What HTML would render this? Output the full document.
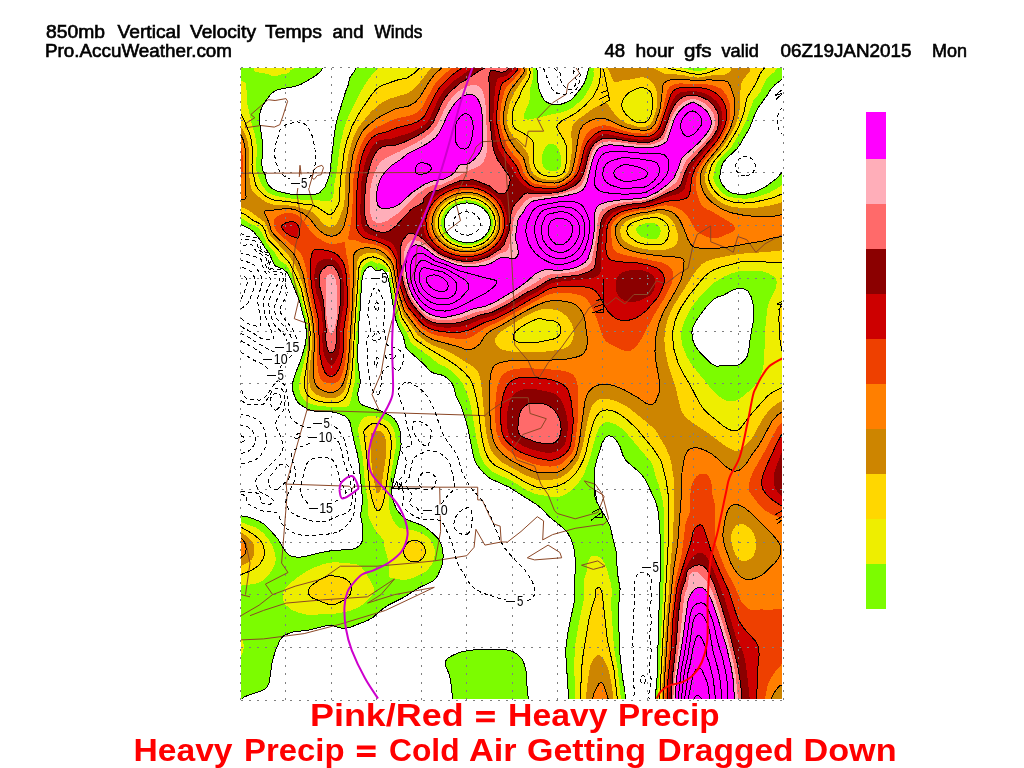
<!DOCTYPE html>
<html><head><meta charset="utf-8"><title>850mb Vertical Velocity Temps and Winds</title>
<style>
html,body{margin:0;padding:0;background:#fff;width:1024px;height:768px;overflow:hidden}
svg{position:absolute;left:0;top:0;display:block}
text{font-family:"Liberation Sans",sans-serif}
.t{font-size:17.5px;fill:#000;stroke:#000;stroke-width:.6px}
.r{font-size:31px;font-weight:bold;fill:#f00}
.lb{font-size:14.5px;fill:#000}
</style></head><body>
<svg width="1024" height="768" viewBox="0 0 1024 768">
<rect width="1024" height="768" fill="#fff"/>
<defs><filter id="nf" x="0" y="0" width="1" height="1" filterUnits="objectBoundingBox"><feOffset dx="0" dy="0"/></filter><filter id="nf2" x="-0.2" y="-0.2" width="1.4" height="1.4"><feOffset dx="0" dy="0"/></filter><clipPath id="mc"><rect x="241" y="68" width="541" height="631"/></clipPath></defs>
<g clip-path="url(#mc)" shape-rendering="crispEdges">
<path fill="#7CFC00" d="M783 700l-127.9 0 2 -23 2.5 -88 1.3 -23 -1 -36 -1.6 -18 -1.4 -6 -2.3 -7 -9.6 -20 -5 -6.2 -14 -12.1 -2.8 -4.7 -3.2 -9.5 -4 -6.6 -3 -3 -4 -1.1 -2 0.6 -2 1.6 -3 5.3 -6.7 21.7 -0.8 7 -0.2 20 0.7 5 1.7 5 9.9 17 3.4 7.1 6 25 1.6 22.9 2.5 15 -1.4 17 0.5 41 3.2 30 2.6 15 0.1 8 -56.4 0 -2.8 -44 0 -8 1.7 -14 6.8 -33 0.1 -18 1.1 -19 -1.1 -13 -1.7 -7 -1.8 -5 -3 -5.5 -3.7 -4.5 -14.7 -12 -7.7 -8 -4.6 -4 -28.3 -17.9 -19 -8.6 -6 -5.2 -5.6 -6.3 -3 -5 -1.7 -5 -5.7 -28.1 -3 -11.3 -4 -11.5 -5 -10.4 -1.9 -7.7 -1.7 -4 -3.1 -4 -4.3 -3.4 -3.5 -1.6 -7.5 -1.8 -3 -1.4 -9 -9.2 -15.2 -13.6 -1.1 -2 -2.5 -11 -4.8 -9 -2.9 -8 -6.4 -37 -2.1 -7.2 -2 -3.1 -2 -1.7 -2 -0.2 -3 1.1 -2 -0.2 -4.2 -3.7 -1.8 -0.7 -3 1.4 -3.1 4.3 -1.5 5 -1 9 -1.2 23 -1.6 16 -0.8 26 0.2 12.2 2.4 18.8 -2.5 11 0.2 6 1.9 4.1 3 2.4 19 5.9 8 3.9 4.4 3.7 3.3 5 2.6 8 0.8 12 -0.8 6 -8.4 38 -0.2 6 1.8 8 3.5 8.1 6 6.9 5 3.1 9 3.2 8 3.7 7.5 6 5.8 6 2.9 5 1.6 6 0.4 7 -1.1 8 -4.1 10 -2.8 4 -2.2 2.1 -14.6 6.9 -15.4 9.8 -14.5 7.2 -5.9 4 -9.6 8.3 -5 3 -17.1 6.7 -4.9 1.4 -5 -0.3 -9 -2.7 -5 0 -17 4.5 -17 2.1 -8.1 3 -2.5 2 -2.4 3.1 -4.8 10.9 -3.4 13 -2.5 18 -2.1 5 -2 2 -3.2 1.6 -16 5.4 -3 2 -1 2 -1 0 0 -184.1 5 0.6 6 1.7 8 3.4 4 2.6 6.1 5.8 7 8 9.5 15 3.4 2.7 4 1.3 10 -0.2 14 -3.6 12 -2.3 18 -1.2 6 -1 4 -1.9 2.9 -2.8 1.4 -3 0.5 -5 -0.3 -11 -2 -10 1.7 -11 0.2 -7 -3.4 -34 -1.6 -9 -3.6 -14 -3.9 -18 -1.7 -3 -3.2 -2.9 -7.8 -3.1 -6.2 -1.3 -15 -0.3 -8 -2 -7.3 -4.4 -3 -3 -2.1 -3 -2.8 -8 -0.3 -4 0.4 -5 1.6 -6 5.5 -14.1 4.8 -14.9 1.6 -11 -0.3 -7 -1.1 -6.9 -5.9 -22.1 -9.1 -22.2 -3 -5.2 -4 -3.6 -7 -2.6 -1.6 -1.4 -5.4 -12 -4 -5.1 -4 -7 -7.2 -8.9 -3.8 -3 -9 -4.7 0 -156.3 81.6 0 -1.7 3 -4.9 4.6 -14.5 8.4 -7.5 2.7 -15 2.6 -5.9 2.7 -3.1 3 -7.7 11 -1.3 3.1 -1.2 4.9 -0.3 9 2.3 13 1 10 -1 16 0.1 5 1.1 4 1.9 3 1.1 5.5 1.9 4.5 3.4 4 5.9 3 12.1 3 11.7 0.9 14 -0.6 3 -0.7 2.5 -1.6 2.5 -2.5 3 -4.6 3 -8.6 1.1 -5.3 4.5 -39 1.8 -10 9.4 -31 2.4 -6 1.5 -7 4.3 -6.2 1.8 -3.8 181.1 0 1.4 19 3.3 9 2.4 3.8 2.4 2.2 4.6 2.1 5 0.9 5 -0.8 6.4 -2.2 3.4 -2 3.1 -3 7.1 -8.8 3.3 -5.2 1.6 -4 2.9 -11 194.2 0 0 10.4 -11 9.3 -5.3 8.3 -7.7 10.2 -3.1 5.8 -6.3 16 -9.9 17 -2.9 4 -9.8 9 -4.2 5 -1.5 4 -1.7 10 0.5 3 1.9 4 4 5 3 2.5 3 1.5 4 0.8 10 0.2 8.7 -2 10.5 -5 10.8 -8 7 -7.6zM473.7 242l4.3 -1.5 4 -2.2 3 -2.5 3 -3.9 1.7 -3.9 0.7 -4 -0.2 -4 -1.2 -4 -2 -3.4 -3.2 -3.6 -3.8 -2.7 -4 -1.9 -5 -1.2 -4 -0.3 -5 0.6 -5 1.5 -3.6 2 -3.4 2.7 -4.4 6.3 -1 3 -0.5 4 0.5 4 1 3 1.7 3 2.7 3.2 3 2.4 4 2.1 8 2 4 0zM734.5 366l4.5 -1.3 3 -2 3.5 -3.7 1.8 -3 1.3 -5 1.8 -14 3 -16 0.1 -15 -2.5 -9.6 -3.2 -5.4 -2.8 -1.8 -3 -0.7 -4 -0.1 -4 1.1 -10.3 5.5 -6.7 2.2 -3 1.9 -7.1 6.9 -10.9 14.8 -3 6.1 -1.1 5.1 0.5 7 2.8 7 5.2 7 9.6 9.7 6 3.5 7 -0.4zM528 700l-75.2 0 -2 -19 -1.8 -7 -3.4 -8 -0.4 -3 0.5 -2 2.5 -3 5.3 -3 7.5 -3.1 7 -1.4 16 -1.2 14 -0.2 9 0.8 7 2.2 4 2.7 3.2 3.2 1.9 3 1.9 5.6 1.4 7.4 1 18 1.2 8z"/>
<path fill="#EEEE00" d="M276 76l-3 0.1 -7 -2.5 -10.7 -1.6 -1.1 -1 -0.1 -3 41 0 -4.1 1.9 -3 3.4 -6 0.9zM783 700l-125.4 0 1.4 -19.3 5 -108.7 0.5 -41 -0.9 -23 -0.9 -7 -3.7 -15.4 -3 -8.2 -2.7 -10.4 -2.3 -5 -24 -28.2 -5 -5.1 -7 -4.7 -4 -1.3 -4 -0.6 -3 0.7 -2 1.3 -2 2.4 -2 3.8 -2.5 6.7 -5.3 20 -6.2 17.6 -5.7 8.4 -3.3 3.9 -7 6 -5 2.9 -4 1.1 -5 0.3 -19 -3.2 -8 -3.7 -17 -10.4 -14 -6.2 -5 -3 -4 -3.7 -3.2 -4 -3.8 -8 -2.9 -13 -6.2 -36 -3.2 -11 -4.7 -11 -4.3 -6 -7.7 -7.2 -6 -4.1 -7 -3.2 -9 -7.5 -15 -10.6 -3 -2.7 -4.1 -9.7 -5.9 -9.8 -1.5 -4.2 -5 -19 -5.4 -27 -3.1 -5.4 -4 -3.5 -2 -0.7 -3 0.2 -5 -2.4 -3 0.5 -3 1.7 -2 1.8 -1.8 2.8 -1.2 3.1 -4.1 48.9 -2.2 62 -4.3 20 -1.1 3 -2.3 1.5 -8 0.9 -20 -1.4 -9 -2.4 -3 -1.6 -3.3 -3 -2.3 -3 -1.3 -3 -0.8 -4 -0.1 -5 0.7 -5 7.2 -30 1 -8 0.3 -9 -1.5 -11 -6.5 -26 -8.1 -20 -3.3 -6.4 -3 -3.8 -6.7 -4.8 -5.6 -9 -6.7 -7.2 -4 -9.4 -3.8 -5.4 -3.4 -3 -7.2 -3 -4.6 -3.3 -3 -1.5 0 -137.2 3.4 1 1 1 0.8 2 1.3 20 4.3 19 3 10 1.9 11 0.3 6 -1 13 0.2 6 4.2 12 2.1 4 5.5 6.4 5 2.5 3.7 1.1 12.3 2.3 13 1.4 10 -0.2 14 1.8 3 -0.4 2 -1 1.6 -1.9 0.7 -2 1.4 -15 2.1 -9 2.9 -25 4.1 -18 2.6 -8 9.6 -20.4 8 -14.7 7 -10 8 -7.9 153.5 0 0.6 3 -0.2 7 -0.7 4 -2.6 7 0.6 6 -0.4 4 -1.3 5 -4.1 9 -0.9 3 0.4 2 1 1 3.1 0.7 12 -2.2 13 -3.7 5 -0.5 10 -3 5 -2.7 10.5 -9.6 6.2 -10 3.4 -8 0.7 -5 -0.4 -4 1.2 -3 87.9 0 9.5 2.4 7 0.7 5.7 -1.1 3.4 -2 68.8 0 -1.7 3 -9.2 8.5 -6 13.2 -6.9 8.3 -7 20 -5.6 11 -9.2 15 -10.4 11 -3.9 5 -1.6 4 -2.2 10 0.4 3 1.8 4 3.6 5.1 3.6 3.9 5.4 3.5 9 1.9 10 0.2 9 -1.5 13 -4.3 7 -3.8 7 -4.7zM556.5 171l3.2 -2 1.4 -3 0.4 -5 -1 -6 -1.5 -5 -2.7 -4 -3.3 -2.1 -3 -0.1 -2 0.7 -2 1.6 -3.2 5.9 -0.8 5 0.3 7 1.7 3.7 2.8 2.3 4.2 1.2zM470.3 245l4.7 -0.9 5 -1.8 4 -2.4 4 -3.8 2.8 -4.1 1.5 -4 0.6 -4 -0.4 -5 -1.7 -5 -2.5 -4 -3.3 -3.4 -4 -2.8 -5 -2.2 -5 -1.1 -5 -0.3 -5 0.7 -5 1.6 -4 2 -4 3.1 -3 3.4 -2.3 4 -1.3 4 -0.4 4 0.4 4 1.3 4 2.4 4 2.9 3.1 3.9 2.9 4.1 2 5 1.5 5 0.6zM655 239l2 -0.6 1.7 -1.4 2 -5 -0.5 -4 -1.2 -2 -2 -1.6 -5 -1.8 -5.1 0.4 -6.9 2 -3.5 3 -0.3 2 0.8 2 4.7 5 6.3 1.7zM734.5 401l3.5 -1.3 5 -3.2 10.5 -9.5 6.3 -9 3.2 -9 1.3 -11 0.6 -26 2.5 -24 1.6 -5.5 6.7 -13.5 1.2 -7 -0.8 -3 -3 -3 -5.5 -3 -5.6 -1.8 -8 -0.6 -15 0.6 -7 2.1 -6.7 2.7 -11.3 6.8 -5 4.4 -10.1 10.8 -6.9 8.6 -6.3 11.4 -4.1 12 -0.6 7 1.5 9 4.5 11 4.3 7 19.7 24.6 6 6.1 5 3.8 4 2.1 4 0.9zM409 579.2l-4 0.6 -4 -0.1 -9.5 -1.7 -2.1 -1 -0.6 -2 0.2 -8 -0.7 -6 -4 -15 -0.8 -6 -8.5 -10.3 -4 -7.2 -2.7 -6.5 -0.5 -3 0.2 -11 -2.9 -17 -2.3 -27 -5 -29 2.4 -7 1.3 -2 2.5 -2.3 4 -1.8 3 -0.3 4 0.6 11 4.1 3 2.3 2.9 3.4 1.6 3 1.3 4 1.1 8 -0.1 6 -6.2 34 -1.1 9 1 20 1 4 2.5 5.6 3 5.3 3 2.9 15 2.6 7 2.4 4 2.2 6.1 6 1.7 3 1.7 5 0.4 5 -0.8 5 -2.1 5 -4 5.6 -4 3.1 -9 4.5zM246 585.1l-5 0.5 0 -63.4 14 5 5 3.1 4 3.5 5 6.2 3 5 2.6 7 1.2 6 -0.5 5 -2.1 5 -3.8 6 -4.4 4.8 -4 2.9 -4 1.6zM621 700l-45.9 0 -0.9 -38 1.1 -18 3.7 -22 4.6 -21 0.4 -22 2.5 -7 0.8 -7 1.4 -5 1.7 -3 2.6 -1.5 3 0.1 3 1.3 3 2.7 2.4 3.4 2.2 5 4.6 17 0.8 8 -0.9 7 0 5 2.8 42 3.9 23zM315 615l-6 0.3 -11 -2.7 -6 -2.7 -6.2 -4.9 -2.4 -4 -0.7 -7 1.5 -4 3.3 -4 7.7 -7 10.1 -7 10 -5 9.7 -3.4 8 -1.2 11 0.2 13 1.9 4 2.2 5.5 7.3 7.2 13 0.4 3 -0.6 3 -3.6 5 -5.9 5.8 -4.7 3.2 -9.6 4 -16.7 3.1 -9 -0.6zM241 656l0 -17.7 2 2.7 0.9 6 -0.8 5z"/>
<path fill="#FFD700" d="M783 700l-123.4 0 6.9 -120 2.1 -51 -0.3 -32 -1.1 -11 -5.5 -23 -3.7 -7.4 -6 -8.4 -14.2 -17.2 -8.8 -8.8 -8 -6.1 -5 -2.9 -5 -1.8 -5 -0.5 -3 0.6 -3 1.6 -3 3.2 -2.1 3.7 -4.3 13 -5.2 22 -2.6 7 -3.5 7 -3.3 4.9 -4 4.5 -4 3.4 -5 3 -5 2.1 -9 2 -6 0.3 -6 -0.9 -10 -4.1 -16 -9.5 -15.2 -7.7 -3.8 -3.2 -3.1 -3.8 -2.7 -5 -2.1 -6 -2.7 -13 -4.5 -34 -2.9 -12.3 -3.2 -8.7 -4.8 -6 -9.1 -8 -8.9 -6 -22 -13.1 -9 -6.3 -2.8 -2.6 -5.6 -10 -6.6 -10 -6.5 -22 -4.3 -23 -1.2 -3.9 -4 -5.9 -5 -4 -8 -2.3 -5 0.8 -3 1.3 -3 2.4 -1.8 2.6 -1.1 3 -3.3 43 -3.5 59 -2.2 16 -3.4 10 -2.7 4 -2.6 2 -3.4 1.3 -5 0.6 -8 -0.6 -8 -1.6 -5 -2 -3.5 -2.7 -3.1 -5 -0.8 -4 -0.2 -4 1.2 -11 3.9 -24 0.7 -10 -0.1 -8 -1.8 -12 -7.3 -29.8 -6.3 -15.2 -4.7 -9 -3 -4.2 -4 -3.9 -4.6 -5.9 -9.7 -10 -1.6 -3 -2.1 -6.6 -2.6 -4.4 -3.4 -2.8 -6 -2.8 -7 -5.4 -5 -2.2 0 -98.4 3 5.5 5.4 13.1 1.5 5 1.7 12 -0.6 15 0.4 7 1.6 5 1.7 8 3.3 5.3 6.4 5.7 6.6 3.4 4 1 18 1.9 8 1.6 9 0.7 5 1.9 11 7.3 3 0.8 2 -0.7 2 -2.1 5.1 -9.8 1.2 -23 5 -33 2.6 -9 3.4 -9 8.7 -16.3 12 -17.5 4 -4.7 3 -2.5 4 -2.1 16 -5.4 8 -1.5 7 -4.6 5.7 -5.4 109.6 0 1.1 4 -1.4 6 -7.1 12 -2.6 7 -3.5 6 -2.1 5 -1.6 8 0.2 7 1.6 4 2.1 2.6 7 3.4 6 3.8 3.2 3.2 1.1 3 0.4 3 -0.3 12 0.4 5 1.2 4 2.4 4 2.6 2.4 3 1.6 4 1 6 0.4 5 -0.5 4 -1.9 2.5 -3 1.4 -5 0.7 -13 -0.6 -7.7 -2 -5.1 -6.8 -11.2 -0.5 -2 0.6 -2 4.1 -4 14.6 -7.9 8.5 -7.1 8.3 -9 4.5 -8 1.5 -4 1.4 -8 0 -9 68.3 0 3.5 1.3 12 2.2 7 2.1 8 0.9 6 -0.9 13 -4.5 1.5 -1.1 44.8 0 -3.7 5 -5.1 11 -8.6 14 -3.8 17 -2 6 -3.6 8 -5.6 10 -5.2 8 -9.7 10.6 -4.8 6.4 -1.7 4 -2 10 0.9 4 2.3 5 2.9 4 3.7 4 5.7 3.9 10 3.3 10 0.9 11 -1 19 -4.6 9 -4 0 68.8 -15 0 -8 -1 -19 0.5 -20 5.3 -7 2.6 -4 2.3 -4.9 4 -4.1 4.6 -13 16.3 -7.4 11.1 -3.3 7 -2.7 8 -1.7 8 -0.4 7 1.6 12 4.4 14 3.5 7.3 8.2 13.7 9.2 18 4.2 6 3.8 4 15.6 12.8 6 3.7 3 1 3 0.3 3 -0.8 2 -1.3 11.3 -14.7 15.7 -17.5 5 -4 11 -5.5zM641.3 123l4.4 -1 3.3 -3 2 -4 1.2 -6 0.2 -9 -0.9 -6 -1.5 -2.4 -2.9 -2.6 -4.1 -1.4 -3 0.2 -4 1.1 -7.5 4.1 -4.6 5 -1.4 3 -0.6 3 0.1 3 0.9 3 3.1 4.5 7.6 6.5 3.4 1.4zM472.6 247l5.4 -1.4 5 -2.3 4.5 -3.3 3.6 -4 2.7 -5 1.3 -5 0.1 -5 -1 -5 -2.2 -4.8 -3 -4.2 -4 -3.6 -5 -3 -5 -1.8 -6 -0.9 -6 0.2 -6 1.4 -5 2.1 -4.1 2.6 -3.9 3.7 -3.1 4.3 -1.7 4 -1.1 5 0.1 5 1 4 1.9 4 3 4 3.9 3.4 4 2.5 5 2 5 1.1 5 0.4zM656.7 245l4.3 -0.5 3.1 -1.5 3.2 -4 1.6 -4 0.2 -5 -1 -4 -2.1 -3.2 -3.4 -2.8 -3.6 -1.7 -4 -1.1 -12 1.8 -10 3.3 -3 2 -2.3 2.7 -1 4 0.8 3 2.4 3 6.1 4.4 3.7 1.6 6.3 1.4zM783 354.5l-1.7 -6.5 -1.4 -9 -1.1 -21 1.2 -10 1 -3 2 -2.9zM539.5 342l13.5 -2.8 3.1 -1.2 2.7 -2 1.7 -3 0.4 -3 -0.9 -4 -2 -2.8 -2 -1.4 -3 -1 -6 -0.5 -6 -1.6 -4 0.2 -9.1 4.1 -6.8 4 -5 4 -2.8 4 -0.3 2 1 2.4 2 1.8 3 1.4 3 0.4zM379 510.6l-2 0 -2 -2.7 -2.4 -6.9 -2.9 -12 -3.1 -35 -2.9 -22 0.7 -2 4.6 -4.4 3 -2 3 -0.6 3 0.2 4 1.3 2.6 1.5 2.4 2.2 3.1 5.8 1.3 8 -0.5 11 -6.3 44 -2.6 9.5 -1.4 2.5zM243 574l-2 0.6 0 -47.4 11.9 6.8 6.2 5 2.4 3 1.6 3 1.6 7 -1.1 6 -4.6 7.3 -7 4.8zM416 562l-4 -0.1 -4 -1.8 -2.8 -3.1 -1.5 -4 0.1 -4 2.2 -4.6 3 -2.7 4 -1.3 4 0.2 4 1.9 3.1 3.5 1.2 4 -0.3 4 -2 4 -3 2.6zM335 604.3l-4 0.4 -4 -0.8 -15 -6.1 -2.2 -1.8 -1.7 -3 -0.1 -2 1.3 -3 2.8 -3 8.6 -6 7.3 -3 4 -0.3 7.9 1.3 3.6 1 3.5 1.8 3 2.8 1.5 3.4 0.2 3 -1.4 5 -1.3 2 -3.4 3 -5 3zM617 700l-36.5 0 0.9 -30 1.9 -17 5.3 -32 3.4 -13.9 3.3 -10.1 0.7 -8 2 -1.4 1.7 0.4 1 1 1.3 3.6 5.5 48.4 7.1 33 2.8 25 0.1 1z"/>
<path fill="#CD8500" d="M783 700l-121.5 0 5.2 -88 2.3 -22 1.1 -22 2.8 -29 1.6 -44 -1 -18 -2.1 -14 -2.3 -8 -3.7 -8 -9.4 -16.2 -2 -2.3 -12 -10.2 -14.3 -11.3 -9.7 -5.3 -11 -3.1 -4 -0.1 -3 0.7 -3 1.4 -2.9 2.4 -2.2 3 -1.9 4.9 -2.1 8.1 -5.2 27 -4.2 13 -3.5 5.7 -4 4.8 -5 4.5 -6 3.9 -4 1.2 -11 1.3 -8 -0.6 -12 -4.8 -21 -11.4 -5 -3.6 -5 -5.2 -3 -4.8 -2.6 -7 -2.6 -13 -4.7 -47 -1.6 -7 -1.9 -5 -4 -4 -21.6 -13.7 -7 -3.3 -12 -4.6 -8 -4.8 -7.2 -5.6 -13.8 -19 -0.9 -2 -6.6 -21 -2.3 -11 -1.8 -12 -1.8 -5 -3.6 -4.9 -5 -4.2 -5 -2.4 -5 -0.9 -5 0.4 -5 2.1 -3.2 2.9 -1.8 4 -6.1 98 -2 15 -3.1 12 -1.9 4 -2.3 3 -3.6 2.7 -4 1.4 -5 0.1 -6 -1.1 -6 -2.2 -4 -2.9 -2 -2.6 -1 -2.4 -0.9 -7 0.3 -9 2.6 -26 0.2 -10 -0.5 -8 -1.6 -10 -6.4 -29 -4 -12 -4.7 -10.8 -5.1 -8.2 -6 -7 -13.9 -14.2 -3.9 -10.8 -1.9 -3 -14.2 -10.8 -5 -2.8 -4 -1.2 0 -80.5 4 6.8 2.8 8.5 1.1 8 -0.1 21 1.4 13 1.2 5 2.7 4 7.9 6.4 5 3 4 1.7 4 0.7 18 0.9 17 4.8 4.7 3.5 9.3 10.5 3 1.9 4 0.7 3.2 -1.1 3 -3 1.8 -3.5 4.5 -12.5 1 -6 0.7 -24 3.3 -23 3.8 -14 6.2 -13 12.5 -15.2 10 -8.7 8 -4.2 18 -5.4 5.8 -3.5 5.2 -5.3 10.6 -13.7 2.9 -3 94.9 0 1.1 3 -0.6 3 -12.2 18 -4.7 10.1 -2.8 12.9 -0.3 6 0.6 4 1.7 5 2.8 5.2 8.7 8.8 6.7 9 1.1 3 1.4 11 1.7 4 2.1 3 3.3 2.7 4 1.8 5 1 8 0.5 5 -0.8 4.6 -2.2 3.3 -3 2.1 -4 2.8 -18 0.4 -7 -0.7 -7 0 -7 1.2 -6 3.4 -4 16.9 -12.4 10 -5.3 3 -0.3 2 1.6 7.4 10.4 4.2 4 7.4 4.4 10 3.1 5 0.6 5 -0.8 3 -1.8 2.5 -3.5 3.9 -11 1 -16 -1.4 -5.4 -3 -5.2 -3 -3 -3 -2 -5 -1.4 -10 2.3 -9 1 -7 2 -1.8 -0.3 -1.2 -1.2 -2.4 -6.8 -3 -6 45.7 0 10.7 5.5 19 1.5 8 1.9 7 0.7 17 -2.8 7 0.4 3 -0.5 3.4 -1.7 2.4 -2 0.6 -1 -0.2 -2 18.8 0 -0.4 4 -6.2 7 -2.1 5 -0.8 6 -0.7 19 -1.7 8 -2.3 7 -4.8 10 -5.4 9 -3.7 5 -9.9 11.4 -4.6 6.6 -2.9 9 0.1 5 3.2 9 5.2 7.1 4 3.6 4 2.6 5 2.5 5 1.7 12 1.8 12 -0.2 16 -2.8 12 -3.3 0 48.2 -16.2 1.8 -23.8 1.6 -9 1.2 -21 4.2 -6 2.2 -5 2.8 -3.9 4 -4.1 5.6 -18 28.3 -4.6 8.1 -3.3 8 -2.2 8 -1.3 8 -0.2 7 1.2 12 2.1 10 7.8 24 4.9 21 2.1 5 3.1 4 5.4 4.7 15 9.9 19 14.1 8 4.6 3 1 3 -0.6 2 -1.2 8 -7.5 3.8 -5 8.7 -16 4.6 -7 4.9 -5.3 5 -4.5 3.4 -2.2 3.6 -1.5zM474.3 249l5.7 -1.7 6 -3.2 4 -3.2 3.9 -4.9 2.5 -5 1.2 -6 -0.2 -6 -1.3 -5 -2.6 -5 -4 -5 -5 -4 -5.5 -2.8 -6 -1.7 -6 -0.5 -7 0.7 -6 1.8 -5 2.5 -4.3 3 -3.9 4 -2.8 4.3 -2 4.7 -1 5 0.1 5 1.3 5 2.6 5 3 3.7 4 3.5 5 2.9 6 2.3 6 1.1 6 0.2zM662.4 250l4.6 -0.6 6.1 -2.4 3.3 -3 1.5 -4 -0.4 -7 -2.6 -8 -2.8 -5 -4.1 -3.3 -5 -2.4 -5 -1.3 -17 2.8 -8 2.3 -4.7 1.9 -4.3 2.9 -2.4 3.1 -1.3 4 0.4 5 2.3 4.6 4 3.3 7 3.6 10 2.5 8 1zM542 352l16 -2 6 -1.6 5 -2.6 3.2 -4.8 1.4 -5 0.3 -4 -0.6 -4 -1.5 -4 -2.2 -4 -3.3 -4 -3.6 -3 -3.7 -2.2 -7.9 -1.8 -4.1 -0.3 -6 0.8 -5 1.6 -14 7.1 -20.1 12.8 -4.4 4 -2.3 4 -0.1 3 1 2 3.9 4.9 2.8 1.1 10.2 1.8 11 0.7zM379 493.2l-1 0.4 -1 -0.6 -2 -7 -3.4 -22 -1.3 -22 0.5 -8 3.2 -2.6 4 -0.9 3 0.9 3 3.2 1.6 4.4 0.5 5 0 10 -0.9 8 -4.2 26.1 -1 3.5zM746.2 561l4.8 -2.2 2.6 -2.8 2.5 -8 -0.1 -7 -2 -7 -3.2 -5 -5.8 -4.3 -2 -0.7 -3 0 -2 0.5 -2 1.3 -3 4.1 -1.8 5.1 0 5 1.8 8.6 3 7.3 3 3.4 2 1.4 2 0.6zM241 566l0 -33.8 6.9 4.8 4 4 2 4 0.5 4 -0.9 7 -1.5 3.3 -4.6 3.7zM613 700l-27.1 0 1.1 -14 3 -19.5 3 -6.7 3 -3.5 2 -1.1 2 0.2 3 2.7 3 5.4 3 7.5 3 16.1 1.6 12.9z"/>
<path fill="#FF7F00" d="M558 472.1l-4 0.7 -13 0.2 -4 -0.6 -5 -1.7 -10 -4.4 -11 -5.9 -8 -6.1 -5.1 -5.3 -2.9 -4.9 -2.1 -5.1 -2.3 -12 -1.3 -27 0.8 -22 1.4 -7 2.5 -5 3 -2.2 5 -1.7 12 -1.7 34 -0.2 17 -1 11 -1.8 3.7 -1.4 3.2 -2 2.5 -3 1.3 -3 0.6 -5 -0.2 -6 -1.8 -15 -1.1 -5 -2.7 -6 -3.5 -4.3 -3 -2.2 -4 -1.9 -9 -1.7 -6 -0.4 -5 0.2 -10 2.7 -13 6.3 -25 14.6 -12.6 6.7 -3.7 3 -2.7 3 -4 7 -6 4.4 -4 1.5 -4 -0.3 -9 -3.3 -24 -6.5 -7 -3.8 -6 -4.6 -5 -5.8 -10.6 -14.6 -7.4 -22.9 -3.9 -23.1 -2.6 -5 -6.5 -7 -5 -3 -5 -1.5 -5 -0.7 -4.6 0.2 -4.4 1 -3 1.4 -1.7 1.6 -1.3 2.6 -0.7 3.4 -0.9 48 -3.7 52 -2.7 17 -3 8.7 -4 5.5 -3 2.1 -3 1 -3 0.3 -4 -0.8 -5 -2.1 -3.5 -2.7 -2.1 -3 -1.4 -4.9 -0.6 -8.1 1 -30 -0.6 -13 -2.2 -14 -6.7 -33 -2.4 -9 -4.5 -10.8 -5 -8.2 -17.6 -17 -3.4 -4 -1 -2 -2 -7.3 -4.3 -9.7 0.2 -2 21.1 -2.4 5 0.3 5 1.1 6.4 3 6.6 4.7 8.7 11.3 6.5 5 3.8 1.7 4 0.6 4 -0.9 3 -1.9 3 -3.3 1.7 -3.2 3.7 -15 1.3 -10 0.9 -26 3.2 -21 3.7 -12 4.9 -10 2.9 -4 4.7 -4.3 7 -5.5 7 -4.4 13 -6.1 13 -2.8 6 -3.4 5 -5.6 9 -15 5.8 -7.9 6.9 -6 82 0 0.8 3 -0.5 1.4 -14 18.1 -2.8 6.5 -1.9 7 -2 11 -0.2 6 0.8 5 3.1 8.6 4 7.8 13 16.4 2.7 11.2 3.5 6 3.1 3 4.7 2.2 5 1.1 9 0.9 5 -0.4 6 -2.3 5 -3.5 3 -3.7 3.9 -13.3 4.8 -29 2.6 -5 5 -4 7.7 -3.1 4 -0.7 4 0 4 1.1 15 7 7 2.3 12 1.9 7 -0.6 2.1 -0.9 2.5 -2 3.2 -5 3.3 -9 1.2 -5 1.7 -14 0.3 -8 1.7 -2.9 2 -1.5 5 -2 5 -0.5 9 0.2 12 1.5 14 -1 16 1.7 2 2 1.9 3.5 3.3 11 0.7 10 -1.3 11 -3.1 9 -5.8 11 -5.6 8 -12.3 15 -4.5 7 -2 8 0.5 7 1.3 5 3.7 7 5.6 6 9.6 6.7 9 3.7 11 2.4 13 1.5 19 0 10 -1.8 0 21.7 -12 2.2 -9 2.8 -37 6.3 -11 1.2 -13 -0.4 -7 -1.2 -3 -2.4 -3 -5.3 -5.7 -14.4 -3.1 -6 -4.4 -5 -2.8 -1.9 -2.9 -1.1 -6.1 -1.6 -3 -0.2 -13 3 -9 1.1 -12.1 3.7 -3.8 2 -3.1 2.7 -1.8 2.3 -1.4 3 -0.6 3 0.2 4 1.2 4 1.9 4 2.5 3.4 3 2.5 7 2.9 12 2.8 14 2 22 1.7 4 1.6 1.1 2.1 -0.8 10 -2.3 9 -3.8 8 -13.8 24 -4 10 -3 11 -1.3 11 -0.1 8 0.9 9 3.8 22 0.2 5 -0.5 4 -4 10 -2.4 2.1 -3 0.5 -4 -1.3 -7.6 -5.3 -14.4 -8.3 -11 -4.4 -6 -1.1 -6 0.2 -4 1 -5 3 -4.2 4.6 -2.9 8 -5.5 40 -3.1 13 -2.3 4 -6 7.2 -5 4.3zM245 199l-4 0.6 0 -64.1 1.6 2.5 1.4 3.8 1.5 9.2 0.3 25 -0.7 12 1 9zM468.4 252l6.6 -0.8 6 -1.8 6 -3.2 5 -4 4 -5 2.5 -5.2 1.3 -5 0.2 -6 -1.1 -6 -2 -5 -3.2 -5 -4.7 -4.9 -5 -3.4 -6 -2.6 -6 -1.3 -7 -0.3 -7 1 -6 1.9 -6 3.2 -5 4 -4 4.7 -3.1 5.7 -1.5 5 -0.5 6 1 6 2.1 5 3.6 5 4.4 4.1 6 3.8 6 2.3 7 1.5zM770 700l-106.8 0 5.4 -83 4.7 -45 4.4 -29 3.5 -45 0.3 -22 2.2 -15 1.6 -6 2.7 -4.5 3 -2.2 4 -0.7 5 0.8 6 2.3 6 3.5 6 4.8 7 6.9 5 3.5 5 1.9 4 -0.9 3 -2.1 4 -4.2 6 -9.5 7 -9.4 13.1 -24.2 5.5 -6 5.4 -3.9 0 275.3 -2 -1.5 -1 0.3 -5 6.2 -2.7 4.6 -1.5 4zM752.6 579l5.4 -1.8 5 -2.9 11.8 -11.3 3.2 -4.3 2 -4 0.8 -4.7 -0.4 -4 -1.3 -3 -6.1 -8 -23 -22.8 -5 -4 -4 -2.4 -4 -1.3 -3 0 -3 1.4 -2.5 3.1 -1.5 3.6 -2 7.6 -2.2 13.8 0.4 5 1.4 7 6.4 17.4 3 5.3 4 5.3 3 2.9 4 2.2 3 0.5zM241 557.3l0 -19.2 2.1 1.9 1.8 3 1.3 6 -0.4 3 -0.9 2 -1.9 2.2zM608 700l-15.7 0 1.7 -7.1 4.7 -8.9 1.3 -1.4 2 0.1 2 3.1 4 12 0.5 2.2z"/>
<path fill="#EE4000" d="M630 351.1l-3 0.2 -5 -1.5 -13 -6.3 -3 -2.2 -2 -2.6 -2 -4 -4.8 -14.7 -3.9 -10 -5.1 -9 -3.2 -3.3 -4 -2.4 -12 -2.5 -14 0.3 -5 1 -5 1.8 -45 25.2 -14 6.2 -13 8.9 -6 2.4 -12 -0.1 -18 -2.9 -8 -2.9 -7 -4.5 -5 -5.2 -11.4 -15 -5.1 -14 -2.5 -8.6 -1.7 -8.4 -1.9 -15 -1.9 -4 -4.2 -6 -4.3 -3.7 -7 -2.9 -6 -1.6 -9 -0.9 -7 -2.8 -6 -0.3 -1.2 -0.8 2.5 -12 1.1 -9 1.3 -16 0.8 -24 2 -14 2 -9 2.6 -8 3.3 -7 3.6 -5.4 7 -5.9 15 -7.3 9 -3.2 14.4 -3.2 5.6 -3 4.4 -5 9.5 -18 3.1 -4.9 5 -6.1 11.8 -10 69.1 0 0.3 2 -1 2 -8.2 9.5 -5.7 5.5 -1.9 4 -2.9 12 -1.6 13 -0.1 6 1.2 5.8 4 12.4 3 6.7 4 5.9 8 9.3 3.8 10.9 4.1 6 4.1 3.5 4 1.6 12 1.7 7 0 5 -1.2 5 -2.3 4.6 -3.3 3.7 -4 1.6 -3 2.3 -7 3.7 -17 3.1 -9.3 3.2 -5.7 4.8 -4.2 8 -3.1 5 -0.4 6 1.3 13 4.3 8 1.9 11 0.9 6 -0.6 2.5 -1.1 2.7 -2 3.5 -5 4.6 -13 4.8 -21 1.9 -3.3 3 -2.5 3 -1.2 5 -0.7 15 0.9 10 -0.3 10 2 6.7 3.1 4.6 6 3.4 8 0.8 10 -1.2 9 -3 8 -5.6 10 -4.3 6 -12.3 15 -5.3 8 -2.4 7 -0.6 6 0.1 5 1 6 2.1 6.8 1.3 3.2 2.1 3 3.6 2.8 7 3.3 18 10.9 3.4 3 0.6 3 -1.2 2 -1.8 1.2 -13 5.4 -6 0.8 -5.9 -1.4 -6.6 -3 -4.5 -3.7 -2.4 -3.3 -5.4 -10 -5.2 -5.8 -3.6 -2.2 -5.4 -2.3 -8 -1.4 -5 0.5 -13 3.5 -12 1.6 -10 2.5 -6 2.7 -5.7 4.9 -2.8 5 -0.7 6 1.6 14 1.1 3 1.5 2 3.1 2 7.9 2.3 36 7.2 4 1.9 4 2.8 2.2 2.8 0.8 3 0 5 -1.5 6 -7.5 14.8 -8.7 14.2 -15.3 28.4 -5 6.3zM241 180.5l0 -34.9 1.3 5.4 0.7 12 -0.7 12zM472.1 254l6.9 -1.5 7 -3 5.2 -3.5 5 -5 3.7 -6 2 -6 0.6 -6 -0.8 -7 -2.1 -6 -3.6 -6.1 -5 -5.4 -6 -4.1 -6 -2.7 -7 -1.6 -7 -0.2 -8 1.1 -7 2.4 -6 3.3 -5.4 4.3 -4.2 5 -2.9 5 -2 6 -0.6 6 0.8 6 1.6 5 2.9 5 4.6 5 5.4 4 6.8 3.3 7 2.1 7 0.9zM335 383.1l-6 0.3 -6 -1.7 -2.5 -2.7 -2 -6 -1.4 -10 -0.7 -30 -1 -11 -5.7 -28 -3.8 -26 -2.6 -9 -2.3 -5 -2 -3 -20 -17.2 -3.1 -3.8 -1.8 -4 -0.3 -5 1.2 -2.9 3 -2.3 6 -2.4 4 -0.7 3 0.2 4 1.1 4 2.1 4.9 4.9 5.1 8.2 4 4.7 5.1 4.1 7 4 3.9 1.7 4 0.7 11 -2.2 1.4 0.8 0.2 9 2.4 9 1.7 14 0.8 17 -0.4 15 -2.7 23 -1 23 -1.6 12 -1.8 7.3 -2.8 6.7 -2.2 2.7zM556 466.2l-6 0.4 -12 -1.3 -8 -2.6 -12 -5.1 -5 -3.1 -8 -6.9 -3.2 -3.6 -3.1 -5 -2.2 -7 -1.2 -11 -0.3 -12 1 -14 1.7 -10 2.1 -6 3.2 -4.8 4 -2.6 7 -2.4 11 -1.2 31 1.8 8 1.1 5 1.4 4 2.3 2.6 3.4 1.4 3.9 0.9 6.1 0.1 27 -0.7 11 -2.5 20 -1.8 5.5 -3.1 4.5 -7.9 7.3zM783 518.7l-6 -2 -6 -2.8 -5 -3 -3.6 -2.9 -4.6 -5 -6.9 -9 -1.7 -3 -0.6 -4 1.2 -7 3.7 -9 14.7 -26 8.1 -16 3.7 -5 3 -2.6zM764 700l-98.9 0 1.5 -27 2.7 -27 1.3 -26 4.4 -37.1 6.9 -29.9 3.6 -29 4.3 -12 0.5 -5 -0.3 -10 1.3 -10 1.7 -5.4 2 -3.5 2 -2.2 3 -1.7 4 -0.5 3 0.8 2 1.9 2 4.6 1.1 6 0.1 7 2.2 8 1 8 -0.6 21 0.4 12 9.8 25 9.5 18 6.5 14.9 4 4.9 5 3.9 2 0.7 9 -1 9 0.4 7 -0.8 6 0.1 0 53.8 -6.7 7.1 -6 9 -2.8 7 -2.8 14z"/>
<path fill="#CD0000" d="M461 332.1l-11 0.3 -13 -1.6 -10 -3.5 -6 -4.5 -13 -15.7 -2 -3.9 -5 -13.9 -2.3 -8.3 -2.8 -22 -3.9 -8.3 -3.6 -3.7 -5.4 -3.2 -8 -3.1 -11 -3.2 -4.3 -3.5 -2.5 -4 -0.9 -5 0.1 -16 0.8 -27 1.3 -10 2.4 -12 2.9 -9 3.9 -8 4.3 -5.4 6 -3.8 7 -1.4 12 -4.6 15 -3.8 5 -2.1 4 -2.4 2.6 -2.5 2.1 -3 9.2 -19 5.1 -8 11 -11.2 10.8 -7.8 56.1 0 -0.9 2.6 -6 6.4 -3 2.6 -5.5 3.4 -1.5 2.8 -1.2 4.2 -2.5 16 -0.9 14 0.6 5 3.7 16 2.1 6 2.2 4.2 11.5 14.8 2.9 7 2.3 4 5.4 6 3.9 2.9 4 1.4 12 1.2 8 -0.1 5 -1.2 6 -2.8 6 -4.3 3.8 -4.1 1.8 -3 2.3 -6 3.4 -15 2.4 -7 5.3 -7.3 7 -5.6 4 -1.7 4 -0.4 5 0.9 13 3.4 11 2.1 12 0.2 5.5 -1.6 4.5 -3.4 3 -4.8 11.1 -32.8 2.9 -3.8 4 -2.1 8 -0.9 18 1 8.3 2.8 3.7 2.2 3.2 2.8 4.4 6 2.3 6 0.6 9 -1.4 8 -2.8 7 -4.3 7.4 -17.7 21.6 -5.9 9 -2.6 8 -2.2 16 -1.6 2.9 -2 1.5 -4 1.4 -15 1.4 -20 5.7 -13 1.7 -11 2.6 -5 2.4 -4.8 3.4 -3.5 4 -2 4 -1.6 13 -0.4 10 0.8 6 2.5 4.7 3 1.7 6 1.3 19 1.2 14.4 3.1 4.6 1.6 3 1.8 2.7 2.6 1.9 3 0.8 3 -0.2 4 -1.1 4 -3.3 8 -3.8 5.8 -10 11.1 -7 5.3 -6 3 -7 1.3 -7 -0.6 -4 -1.8 -6 -5.5 -3.3 -4.6 -6.9 -13 -3.2 -4 -2.6 -1.8 -5 -1.8 -7 -1.1 -17 0 -7 0.6 -5 1 -5 2 -33 19.3 -18 9.5 -12.6 4.3 -13.4 6.8zM474.3 256l7.7 -2.1 7 -3.5 6 -4.6 4.8 -5.8 3.2 -6.6 1.7 -7.4 0 -6 -1.5 -7 -2.8 -7 -4.3 -6 -5.6 -5 -6.5 -4 -7 -2.5 -8 -1.2 -8 0.3 -7 1.5 -7 2.8 -7 4.2 -5.3 4.9 -4.4 6 -2.9 6 -1.5 6 0.2 6 1.4 7 2.1 5 3.4 5 5.3 5 6 4 7.7 3.2 7 1.7 8 0.7zM298 238.4l-7 -2.3 -6 -3.9 -3.1 -4.2 -0.1 -2 0.6 -1 3.2 -2 4.4 -1.4 4 0.2 2.2 1.2 2.2 3 1 4 -0.4 6.2zM333 376.1l-4.1 -0.1 -1.9 -1.2 -2 -2.4 -3 -7.4 -2 -10 -1.8 -36 -6.1 -29 -1.9 -17 0.1 -9 0.9 -8 1.8 -5.3 3 -1.6 5 0.2 7 1.5 6 1.8 3 1.9 4 4.3 2.5 4.2 1.5 4.6 1.1 6.4 1.3 17 0.1 11 -0.6 7 -3.1 20 -0.2 16 -0.7 9 -1.9 9 -2.1 6 -2.9 5zM553 460l-6 0 -8 -1.5 -10 -3 -8 -3.2 -5 -2.9 -6 -4.8 -4 -4 -2.4 -3.6 -1.8 -6 -1.2 -10 0.1 -11 1 -8 2.1 -9 2.4 -6 3.7 -5 4.1 -2.7 5 -1.7 6 -0.6 16 1.2 9 1.3 7 2 5 2.4 4 3.2 2.6 3.9 2.8 11 1.8 17 -0.3 8 -2.2 18 -2.2 5 -3.5 4 -6 4zM783 506.8l-10 -6.4 -6.3 -5.4 -4 -6 -1.2 -6 0.8 -6 3.7 -10 9.6 -21 5.4 -10.4 2 -2.8zM756 700l-89 0 1.1 -23 3.2 -29 1.6 -29 3.5 -29 3.2 -13 11.1 -34 2.3 -11.4 2 -3.8 4 -2.8 3 0.1 1.4 1.9 7.4 23 9.2 21.9 9.1 20.1 7.1 22 2.8 6.9 6 8.9 10.5 11.2 2.6 5 1.1 8 -1.7 17 -0.8 29z"/>
<path fill="#8B0000" d="M459 327l-13 0.8 -10 -1.2 -8 -2.7 -7 -5.4 -11.9 -14.5 -3.3 -7 -3.8 -11.2 -2 -7.8 -2.4 -23 -1.6 -5.3 -2 -4 -2 -2.3 -3 -1.9 -21 -7.9 -3.3 -2.6 -2 -3 -1.6 -6 -0.8 -9 0.6 -25 0.6 -7 2.6 -14 2.8 -10 4.1 -8.6 4.2 -5.4 2.8 -2 3 -1.2 10 -1.1 19 -5.8 7 -3.2 7 -4.6 3 -2.8 2.4 -3.3 8.6 -19 3 -5.3 3.5 -4.7 9.5 -9.2 18.4 -12.8 41.9 0 -2.3 3.1 -5 4.3 -2 0.9 -6.6 1.7 -1.4 2.1 -1.4 4.9 -1.9 20 -0.4 16 1.9 14 3 13 3.1 6 10.8 15 5.2 9 3.7 4.6 3.9 3.4 5.1 3.1 4 1.4 12 0.6 9 -0.3 6 -1.5 6 -2.6 5.9 -3.7 4.2 -4 2.7 -4 2.2 -5 3.6 -15 2.7 -8 4.3 -6 6.4 -4.9 4 -1.6 5 -0.2 18 3.5 13 1.8 9 -0.2 6 -1.8 4 -2.7 3 -3.9 9 -24.8 4 -7.9 3.6 -4.3 3.9 -2 8.5 -0.8 7 0.3 5 0.9 8 3.4 6.3 5.2 4.1 6 1.9 6 0.3 8 -1.7 7 -2.7 6 -3.2 4.9 -18 21.1 -5.2 7 -3.5 8 -3.5 13 -1.7 3 -5.1 2.9 -9 2.5 -20 7.5 -7 1.5 -10 1 -11 2.4 -8.5 4.2 -5.5 5.3 -3 6.5 -1.7 10.2 -1.4 15 0 20 -0.6 3 -1.3 2 -5 2.4 -6.7 1.6 -28.3 2.7 -7 1.5 -6 2.9 -9.1 5.9 -7.9 3.8 -18.6 11.2 -16.4 8.5 -13 3.6 -13 5.7zM476.5 258l7.5 -2.4 7 -3.6 6.4 -5 4.3 -5 3.2 -7 2 -7 0.4 -7 -1 -7 -3.6 -10 -2.5 -4 -7.2 -6.4 -6 -4 -7 -3.2 -7 -1.6 -10 -0.2 -8 1.3 -9 3.7 -10.8 6.4 -4.2 4.7 -7.2 10.3 -1.6 3 -0.7 3 3 16 2.2 5 4.6 6 6.7 5.9 6 3.7 9 3.4 7 1.5 9 0.4zM332 365.1l-2 -0.4 -2 -2.1 -3.4 -6.6 -0.9 -3 -1.1 -8 -0.5 -10 1.2 -5 -1.9 -20 -1.4 -6.9 -3.7 -10.1 -2.1 -14 0.6 -9 2.2 -6.4 4 -3.5 6 -1.6 4 0.1 2 0.7 3 2.1 3 3.4 3.2 7.2 1.5 11 -0.1 22 -4.3 25 0.9 5 -0.8 16 -0.9 4 -2.5 5.3 -2 3.2zM634 302.1l-5 -0.1 -4 -1.2 -4 -2.4 -3.2 -3.4 -1.4 -3 -0.6 -4 0.5 -7 1 -4 2.5 -3 3.2 -2 9 -2.2 9.3 0.2 3.9 1 4.6 2 3.7 3 2 4 -0.4 6 -1.6 5 -2.5 3.4 -3 2.3 -9 4.1zM554 452.1l-4 0.7 -4 -0.2 -8 -1.5 -8 -2.3 -7 -2.9 -9 -5.2 -2.3 -1.7 -1.6 -2 -2.1 -5.3 -1.3 -6.7 0 -7 1 -9 1.4 -6 2.1 -5 2.8 -3.8 4 -3 5 -1.8 7 -0.5 5 0.3 13 2.4 4 1.1 4 2 3 2.5 2.1 2.8 3.2 7 3 11 0.6 7 -0.4 6 -1.9 11 -1.3 3 -4.3 4.3 -3 1.8zM783 497.4l-4.8 -4.4 -2.7 -4 -1.4 -4 -0.6 -6 1.2 -8 6.3 -17.2 2 -4.1zM749 700l-79.9 0 1.2 -24 3 -27 2.6 -37 2.6 -20 1.7 -7 5 -16 5.8 -10.2 3 -3.2 4 -2.6 2 -0.4 3 0.8 3 2.5 2 2.9 4.7 9.2 11.7 30 11.6 39.5 5.4 10.5 2.7 8 1.9 10 2 15.7 1.8 18.3z"/>
<path fill="#FF6A6A" d="M385 232.1l-4 0.1 -4 -0.7 -4 -1.5 -3 -2 -3.3 -5 -1.7 -7 0 -25 1.1 -9 4.9 -19.5 2.3 -5.5 3 -5 2.7 -2.9 3 -2 4 -1.1 10 -1 7 -2.3 12.1 -5.7 10.1 -6 4.8 -4.4 3.5 -4.6 8.4 -19 3.1 -5 3.9 -5 9.1 -8.3 12 -7.4 6 -4.5 8.6 -4.8 24.7 0 -3.3 2.9 -3 1.1 -3.4 0 -6.6 -1.7 -2 0.3 -1.6 2.4 -0.6 4 0.9 21 0.3 24 2.7 24 1.8 7 3.2 7 12 17 0.4 3 -0.6 4 -1.5 4.7 -1.8 3.3 -1.2 1.2 -2 0.8 -4 -0.5 -2.5 -1.5 -6.5 -5.8 -16 -6.2 -12 0.4 -4 1 -10 4 -9 4.5 -8 2 -2.2 1.1 -4.7 5 -0.8 4 -0.8 1 -8.5 4.5 -3.4 2.5 -17.6 18.5 -4 2.5zM445 324l-6 -0.4 -6 -1.3 -4 -1.6 -4 -2.5 -4 -3.6 -4.7 -5.6 -5.4 -7 -3.2 -6 -4 -12 -1.8 -8 -0.8 -8 -0.5 -17 0.3 -5 1.1 -4.1 2.4 -3.9 3.6 -3.9 2 -0.7 2 0 6 2 5 3.6 8.1 8 6.9 5.8 7 3.6 9 3.2 8 1.5 10 0.1 6 -0.9 8 -2.6 5 -2.5 9.4 -6.2 3.6 -4 5.4 -15 1.4 -15 1.6 -7 1.6 -2.6 9.2 -10.4 1.8 -1.5 2 -0.6 8 0.9 22 -1 11 -3.6 7.6 -4.2 4.4 -4.3 3 -5.6 2.4 -7.1 2.4 -11 2.9 -8 3.3 -4.9 3.7 -3.1 4.3 -2.2 4 -0.8 7 0.4 17 2.9 11 1.1 9 -0.4 7 -2.6 3.5 -2.4 2.3 -3 7.3 -20 4.9 -9.6 4.7 -5.4 5.3 -2.9 8 -0.9 7 1.2 7.7 3.6 5.5 5 3.8 6 1.8 6 0 6 -1.8 6.7 -2.3 4.3 -3.7 5.1 -22 24.9 -4.2 9 -3.9 11 -1.9 2.9 -3.1 2.1 -23.9 11.3 -9 2.6 -14 1.4 -11 2.3 -8 3.4 -3 2.1 -2.8 2.9 -2.2 3.9 -1.2 4.1 -5.7 42 -1.1 2.8 -2 2 -5 2.6 -8 2.6 -23 2.8 -4 1 -6 2.8 -10 6.4 -9 4.3 -20.5 12.7 -14.5 7.2 -14 3.4 -9 3.9 -8 2.5 -6 1.2zM333 352.4l-2 0.6 -2 -1.2 -1.5 -2.8 -1.1 -4 -1 -10 1.1 -4 -1.3 -9 -1.5 -19 -1.3 -7 -2.8 -10 -0.6 -5 0.3 -5 1.9 -5 4.2 -4 2.6 -1.4 2 -0.4 2 0.4 2 1.2 3.8 5.2 2.2 6.6 0.8 8.4 -0.2 11 -1 13 -3.5 20 0.8 4 -0.6 7 -1.3 7.1zM553 443.2l-8 0.4 -8 -1.2 -14.3 -5.4 -2.9 -2 -1.5 -3 -0.5 -4 1.3 -12 2.1 -6 3.8 -4.2 3 -1.7 4 -1.1 9 0.3 4 0.9 4 1.7 3 2.1 3 3.3 3 4.5 1.8 4.2 1.1 5 0.2 5 -0.9 5 -1.7 4 -2.5 2.8zM742 700l-70.7 0 1.1 -23 3.4 -30 3.2 -37.4 2 -15.6 1.5 -6 2.9 -7 2 -10 2.6 -2.9 5 -2.5 3 -0.7 3 0.2 2 0.8 2.6 2.1 4.4 7.1 5.5 12.9 8.9 28 12.1 44 3.7 21z"/>
<path fill="#FFAEB9" d="M381 223l-5 -0.5 -3 -2 -2.2 -4.5 -0.8 -6 -0.1 -17 1.2 -9 2.9 -10 2.6 -6 2.4 -4.1 3 -3.3 3 -2.1 15 -7.2 22 -11.7 7 -5.2 5 -5.2 3.8 -5.2 6.3 -14 4.9 -8.5 4 -5.1 5 -4.7 6 -3.9 7 -2.9 4 -0.4 4 1.6 2.5 2.9 1.7 4 1.8 7 0.8 8 1.6 39 -1.4 9 -2.6 6 -2.4 2.6 -3 2 -13 5.8 -14 8 -11 4.9 -7 0 -7 2.8 -8.3 5.9 -17.7 18 -13 8.9zM449 320.1l-6 0.4 -6 -0.6 -5 -1.4 -5 -2.5 -4 -3.1 -4 -4.2 -5.1 -6.7 -3.6 -6 -2.9 -7 -2.5 -9 -1 -7 -0.4 -8 0.2 -8 1 -7 2.2 -5 3.1 -3.7 2 -1.1 2 -0.3 6 1.6 4 2.5 14 11.3 8.4 3.7 10.6 3.7 7 1 10 0.1 7 -1.3 8 -2.5 9 -5.6 8 -3 2 -1.7 1.1 -2.7 1.3 -9 2.2 -7 0.8 -10 1.5 -5 1.5 -3 6.5 -9 3.9 -4 2.2 -1.5 3 -1.1 23 -2 6.9 -1.4 12.1 -4 4 -2.1 3 -2.5 2.3 -3.4 2.4 -6 4.1 -16 2.7 -8 2.5 -4.3 4 -3.6 5 -2.2 5 -0.5 6 0.4 26 3.3 8 -0.1 6 -1.4 6 -2.7 3.2 -2.9 6.1 -17 3.2 -7 4.5 -7.1 5 -4.6 7 -3 5 -0.1 5 1.6 4 2 5.9 5.2 3.2 5 1.8 6 0.2 5 -1.9 6 -3.1 5 -7.1 8.6 -17.1 17.4 -8.3 19 -1.9 3 -14.7 10.1 -11 5.4 -8 2.1 -17 1.6 -11 2.1 -8 3 -5 4.1 -2 3.5 -1 3.4 -2.3 21.7 -4 20 -1.1 3 -2.6 2.9 -6 3.4 -6 2.1 -13 2 -11 0.5 -4 1 -5 2.7 -8 5.5 -11 6.1 -10 6.9 -12 7 -10 4.9 -5.8 2 -11.2 2.4 -14 5.4zM501 184.4l0 -0.7 0.7 0.3zM332 333.5l-1 0.3 -1 -1.1 -2 -4.5 -1.7 -14.2 0.1 -14 -0.9 -20 1.5 -4.3 3 -2 3 1 2 2.8 1.4 5.5 0.6 8 0.1 19 -0.5 8 -1.8 10zM737 700l-63.8 0 1.3 -22 5.5 -40 4 -40.3 1 -4.2 2.6 -6.5 1.4 -10.9 1.1 -2.1 2.9 -2 3 -0.3 2 0.8 3 3.4 5 4.1 5.2 9 4.2 11 12.3 40 6 24 1.8 10 1.8 17 0.7 9z"/>
<path fill="#FF00FF" d="M390 208.1l-7 0.6 -3 -0.9 -2 -2.4 -1.2 -4.4 -0.1 -8 1.5 -8 2.6 -7 4.2 -6 5.8 -6 10.2 -6.8 6 -5 21 -11 6.9 -5.2 3.1 -3.6 2.7 -4.4 6.3 -13.9 4 -7.4 4 -5.6 4 -4.1 4.2 -3 4.8 -1.8 4 0.1 3 1.6 3 3.5 2.6 5.6 1 5 1 10 0.2 16 -0.4 9 -1.2 5 -3.1 5 -4.6 5 -4.5 3.4 -3 1 -5 0.1 -2 0.8 -4.1 6.7 -4.7 4 -7.2 3.3 -9 1.4 -9.1 3.3 -13.3 9 -12.6 11.6 -4 2.1zM447 317.1l-5 0.2 -6 -0.9 -5 -1.6 -4 -2.2 -4 -3.1 -4 -4.2 -4 -5.3 -2.8 -5 -2.9 -7 -2 -7 -1.2 -7 -0.3 -7 0.4 -7 1.5 -7 1.9 -4 2.4 -2.6 2 -1.2 2 -0.4 5 1.1 5 2.9 8 6.4 4 2.5 17 6.8 7 1.6 11 0.7 12 -1.5 6 -1.9 8 -5.1 3 -0.9 4 0 7 1.3 2 -0.3 2.5 -2.4 1 -3 -1.3 -8 -2.2 -8 1.8 -7 0.4 -8 1.6 -4 3.9 -5 4.1 -7 4.2 -3.9 4 -1.7 28 -4.1 14.2 -3.3 4.8 -2.3 2.8 -3.7 2.2 -5.2 5 -19.8 2.3 -7 2.1 -4 2.8 -3 4.8 -2.5 6 -0.8 33 3.2 9 -0.4 6.6 -1.5 5.4 -2.4 2.9 -2.6 7.9 -23 4.6 -7 5.6 -5.2 6 -3 4 0.2 7.2 4 4.8 4.6 2.7 4.4 1.5 5 -0.2 4 -1.9 5 -3.5 5 -6.6 7.6 -16.2 14.4 -1.8 2.9 -3 9.1 -4 8.7 -2 2.6 -6.3 5.7 -8.7 6.3 -10 4.7 -8 1.5 -19 1.5 -11 1.5 -7 2 -2.7 1.5 -2.1 2 -1.7 3 -1 4 0.2 14 -2.6 17 -4.1 13.7 -3 3.8 -7 4.3 -8 2.3 -12 1.5 -11 -1.2 -6 1.4 -7 4 -6.4 6.2 -12.6 9.2 -20 11.9 -9 3.9 -13 3 -12 4.7zM734 700l-59.1 0 1.9 -24 5.4 -33 5.4 -40 1.4 -5.3 3 -5.5 3 -3.1 3 -1.5 3 -0.2 2 0.7 4 3.7 4 7 4.5 12.2 10.5 34.3 4.8 19.7 2.6 17 1.2 18z"/>
</g>
<path d="M240.5 67.5V700.5M285.8 67.5V700.5M331.1 67.5V700.5M376.3 67.5V700.5M421.6 67.5V700.5M466.8 67.5V700.5M512.0 67.5V700.5M557.3 67.5V700.5M602.5 67.5V700.5M647.8 67.5V700.5M693.0 67.5V700.5M738.2 67.5V700.5M783.5 67.5V700.5M240.5 67.5H783.5M240.5 120.2H783.5M240.5 172.9H783.5M240.5 225.7H783.5M240.5 278.4H783.5M240.5 331.1H783.5M240.5 383.8H783.5M240.5 436.5H783.5M240.5 489.3H783.5M240.5 542.0H783.5M240.5 594.7H783.5M240.5 647.4H783.5M240.5 700.5H783.5" fill="none" stroke="#7f7f7f" stroke-width="1" stroke-dasharray="2 6.3" shape-rendering="crispEdges"/>
<g clip-path="url(#mc)">
<path d="M241.0 173.3 L466.8 172.3M466.8 172.3 L467.7 162.8 L474.1 152.3 L475.9 147.0 L482.2 141.7 L503.9 140.7 L516.5 138.6 L525.5 147.0 L528.2 131.2 L543.6 131.2 L537.3 118.6 L552.6 102.8 L566.2 94.3 L568.0 83.8 L579.7 73.3 L576.1 68.0M503.9 140.7 L509.3 215.5 L513.8 299.7 L514.7 345.0 L528.2 360.8 L534.6 375.6 L539.1 377.7M299.7 173.3 L297.0 194.4 L301.5 220.7 L295.2 247.1 L292.5 273.4 L298.8 299.7 L294.3 318.7 L308.7 324.0 L306.9 410.3 L286.2 484.1 L287.1 494.6 L281.6 563.1 L288.0 572.5 L265.4 584.1 L272.6 594.6M313.3 173.3 L308.7 189.1 L313.3 204.9 L304.2 220.7M466.8 172.3 L455.1 199.7 L460.5 220.7 L439.7 236.5 L417.1 247.1 L415.3 268.1 L403.6 299.7 L391.9 320.8 L385.5 347.1 L381.0 373.5 L372.0 394.5 L380.1 412.4M306.9 410.3 L380.1 412.4 L484.9 415.6 L489.4 411.4 L498.4 405.1 L512.0 397.7 L528.2 397.7M286.2 484.1 L349.4 486.2 L352.1 489.3 L353.9 486.2 L439.7 487.2 L477.7 487.2M477.7 487.2 L477.7 499.9 L482.2 499.9 L489.4 515.7 L493.9 524.1 L500.2 526.2 L501.2 542.0M439.7 487.2 L440.6 531.5 L435.2 560.9M539.1 377.7 L548.1 362.9 L561.7 347.1 L570.7 334.5 L582.4 318.7 L588.8 308.2 L602.3 299.7 L606.8 305.0 L615.9 297.6 L624.9 303.9 L633.9 294.5 L647.5 294.5 L656.5 280.8 L665.6 283.9 L679.1 273.4 L688.1 268.1 L692.6 247.1 L697.2 234.4 L710.7 226.0 L710.7 241.8 L724.3 247.1 L733.3 252.3 L737.8 236.5 L746.8 239.7 L755.9 252.3 L764.9 243.9 L778.5 236.5 L783.0 234.4M528.2 397.7 L530.1 413.5 L546.3 418.7 L540.9 428.2 L522.8 434.5 L512.0 450.3 L516.5 459.8 L534.6 466.1 L540.9 484.1 L548.1 494.6 L554.4 510.4 L557.2 513.5 L575.2 518.8 L597.8 512.5 L604.1 496.7 L595.1 484.1 L584.3 480.9 L588.8 486.2 L602.3 494.6 L608.6 518.8 L604.1 524.1 L575.2 528.3 L552.6 534.6 L542.7 539.9 L543.6 520.9 L537.3 516.7 L521.0 531.5 L507.5 542.0 L501.2 542.0M527.3 557.8 L548.1 545.1 L559.9 552.5 L561.7 557.8 L534.6 559.9 L527.3 557.8M581.5 565.2 L597.8 560.9 L605.0 566.2 L593.3 569.4 L581.5 565.2M501.2 542.0 L484.9 545.1 L475.9 529.3 L474.1 547.3 L466.8 555.7 L434.3 560.9 L412.6 563.1 L376.5 566.2 L340.4 566.2 L322.3 578.9 L295.2 586.2 L272.6 594.6 L259.1 605.2 L241.0 615.7M241.0 639.9 L263.6 638.9 L304.2 633.6 L340.4 624.1 L385.5 610.4 L434.3 587.3 L394.6 594.6 L367.5 603.1 L381.0 594.6 L394.6 578.9 L367.5 596.8 L322.3 599.9 L286.2 603.1 L263.6 610.4 L250.0 615.7M245.5 594.6 L250.0 563.1 L245.5 542.0M241.0 594.6 L250.0 596.8M245.4 127.8 L246.2 123.2 L254.8 117.7 L250.8 114.6 L268.0 99.7 L275.1 100.5 L286.0 98.6 L287.6 101.3 L282.9 116.1 L279.8 124.7 L274.3 127.1 L261.0 125.5 L245.4 127.8M312.6 170.8 L317.3 166.9 L321.9 165.3 L323.5 167.7 L321.2 174.7 L317.3 175.5 L314.1 179.4 L311.8 177.8 L313.3 172.4M299.3 174.5 L300.0 165.3 L301.2 174.5" fill="none" stroke="#8b4726" stroke-width="1"/>
<path d="M543.5 68.0 549.8 85.0 552.0 89.0 556.4 93.0 562.0 94.4 568.0 93.8 572.0 92.7 575.0 90.8 577.0 88.3 579.0 83.0 580.2 75.0 577.9 68.0M783.0 107.3 781.0 109.0 778.7 113.0 777.5 117.0 777.1 121.0 777.7 126.0 779.0 130.0 781.0 133.2 783.0 134.9M302.6 181.0 306.0 179.7 310.0 177.0 313.7 172.0 315.3 163.0 315.0 148.9 312.7 137.0 308.5 128.0 306.0 125.1 303.0 123.1 300.0 122.1 296.0 121.9 285.6 125.0 282.0 127.4 280.0 130.0 275.5 145.0 274.7 151.0 274.9 157.0 276.0 162.7 278.0 168.0 280.2 172.0 283.0 175.3 287.0 178.0 292.7 180.0 298.0 181.1 302.6 181.0M746.2 176.0 750.0 174.8 753.0 172.4 754.8 169.0 755.3 165.0 754.5 162.0 752.2 159.0 749.0 157.0 746.0 156.4 742.0 157.1 738.0 159.8 736.1 163.0 735.5 167.0 736.6 171.0 739.0 173.8 742.0 175.5 746.2 176.0M469.6 235.0 474.8 233.0 478.9 229.0 480.3 225.0 479.9 220.0 477.3 216.0 473.0 213.0 467.0 211.7 462.0 212.4 457.2 215.0 454.5 218.0 453.0 222.0 453.6 227.0 456.1 231.0 460.0 233.8 465.0 235.2 469.6 235.0M241.0 352.3 253.5 360.0 264.0 365.0 272.0 372.7 275.0 374.3 277.0 372.9 281.2 366.0 293.1 354.0 296.0 344.0 296.3 339.0 295.6 335.0 292.6 329.0 281.5 315.0 279.8 310.0 280.8 306.0 285.4 298.0 287.0 293.9 287.1 291.0 285.4 285.0 285.8 273.0M281.0 269.2 274.0 269.5 271.0 268.4 270.0 267.0 269.4 264.0 271.4 259.0M268.0 252.6 265.0 252.1 261.1 249.0 260.4 247.0 260.5 242.0M257.0 238.0 246.0 236.4 241.0 233.5M378.9 394.0 380.6 390.0 382.0 374.0 384.0 368.9 386.6 367.0 390.0 366.6 393.0 367.5 397.0 370.4 399.0 370.0 401.0 367.6 402.6 364.0 404.1 357.0 403.0 353.7 400.0 350.4 396.0 348.3 388.0 345.4 386.0 343.4 385.5 337.0 383.5 327.0 384.8 309.0 384.3 302.0 378.8 290.0 377.1 288.0 376.0 287.6 374.0 288.4 373.0 289.7 369.1 302.0 367.9 315.0 370.6 330.0 369.9 333.0 367.0 339.0 366.6 343.0 367.7 352.0 367.8 368.0 370.2 383.0 372.0 389.2 374.0 392.8 377.0 394.7 378.9 394.0M241.0 494.0 246.1 496.0 246.7 498.0 245.9 502.0 247.9 504.0 262.0 510.9 275.0 512.3 277.0 513.0 278.5 515.0 281.4 523.0 285.0 527.6 294.0 533.1 303.0 535.7 308.0 535.8 327.0 534.3 334.0 533.0 339.6 531.0 344.1 528.0 350.0 521.5 353.3 516.0 354.8 510.0 355.4 494.0 353.9 480.0 354.2 474.0 349.0 461.0 345.0 441.3 342.0 435.1 337.6 429.0 333.9 426.0 329.0 424.6 326.0 425.0 319.0 427.6 313.0 427.8 306.0 427.1 301.0 425.8 294.0 421.5 290.9 418.0 289.2 414.0 287.9 397.0 286.3 388.0 284.0 384.5 280.0 381.3 278.0 380.7 276.0 381.7 266.0 396.2 263.0 398.9 260.0 400.1 252.0 399.7 246.2 398.0 244.2 396.0 241.0 389.0M520.1 602.0 529.5 600.0 532.4 598.0 534.0 595.6 534.9 592.0 534.8 589.0 533.7 585.0 530.9 579.0 524.9 570.0 509.5 554.0 503.9 547.0 500.2 540.0 490.1 515.0 485.7 506.0 481.0 499.1 472.0 489.3 466.0 480.2 461.6 471.0 457.9 458.0 454.5 451.0 446.5 440.0 441.9 432.0 434.5 410.0 429.0 398.7 424.7 393.0 419.5 388.0 412.0 383.4 407.0 381.9 404.0 382.9 400.8 386.0 398.7 389.0 398.3 392.0 399.7 398.0 404.7 412.0 406.5 424.0 410.5 438.0 411.4 444.0 411.0 445.7 410.0 446.7 402.0 447.5M401.3 451.0 405.5 458.0 406.7 462.0 404.4 473.0 402.9 476.0 400.0 479.0 399.2 481.0 399.6 484.0 403.8 493.0 403.9 496.0 402.5 503.0 403.1 506.0 405.0 509.0 411.0 514.2 420.0 518.8 426.0 520.0 437.0 519.8 440.5 521.0 442.7 523.0 445.0 526.9 452.4 544.0 456.4 560.0 458.3 565.0 469.0 582.6 474.0 588.2 482.0 592.9 498.2 598.0 512.0 601.5 520.1 602.0M298.0 438.1 296.0 438.3 295.0 438.0 294.7 437.0 296.0 434.9 299.0 433.2 300.0 433.6 300.7 435.0 299.8 437.0 298.0 438.1M278.0 489.0 276.0 489.8 274.0 489.7 270.0 487.3 268.1 484.0 268.4 480.0 271.2 475.0 278.2 466.0 281.0 464.1 285.0 464.0 288.0 465.7 289.5 468.0 290.7 472.0 290.3 476.0 287.8 480.0 278.0 489.0M650.9 700.0 649.1 698.0 648.5 696.0 651.3 680.0 648.9 667.0 651.3 651.0 649.4 636.0 651.3 622.0 651.2 618.0 649.5 609.0 651.4 599.0 650.7 588.0 651.3 581.0 650.8 578.0 649.0 575.1 646.0 572.9 643.0 572.2 640.0 572.7 637.0 575.1 635.6 578.0 634.7 583.0 635.0 600.0 633.1 617.0 633.5 633.0 632.6 638.0 634.0 664.0 633.0 678.0 634.5 692.0 633.3 700.0M553.8 68.0 561.0 74.0 560.9 81.0 562.0 84.4 567.9 89.0 570.0 89.6 572.0 89.2 574.0 87.7 576.1 83.0 576.1 79.0 573.6 74.0 574.1 71.0 572.9 68.0M241.0 340.7 254.0 348.1 266.0 356.6 272.0 358.9 278.0 358.6 284.0 356.1 288.2 353.0 290.6 349.0 291.9 341.0 290.4 335.0 286.0 328.2 277.0 319.2 274.2 310.0 275.1 304.0 280.3 292.0 282.0 286.2 283.3 280.0 283.0 275.4 282.0 273.1 280.4 272.0 272.0 271.1 269.0 269.1 267.6 264.0 269.9 257.0M269.0 255.6 265.0 254.2 259.2 250.0 258.2 248.0 257.4 243.0 255.3 241.0 251.0 239.9 241.0 239.9M377.3 311.0 378.4 309.0 378.6 306.0 378.0 303.5 377.0 302.7 376.0 303.0 375.3 304.0 374.8 307.0 375.9 311.0 377.3 311.0M378.6 340.0 380.1 339.0 380.7 337.0 379.0 333.1 378.0 331.5 377.0 331.2 373.0 336.0 372.0 339.0 374.0 340.7 376.0 340.8 378.6 340.0M393.8 358.0 395.9 356.0 395.0 354.6 393.0 353.9 387.2 355.0 385.6 356.0 385.1 357.0 386.5 358.0 389.0 358.5 393.8 358.0M376.5 366.0 378.1 359.0 378.0 357.9 377.0 357.4 375.0 360.4 374.6 363.0 375.0 366.6 376.0 366.9 376.5 366.0M241.0 491.2 259.0 493.3 259.7 494.0 260.4 501.0 262.0 502.9 264.0 503.9 270.0 504.2 273.0 503.0 273.7 502.0 273.3 500.0 270.0 497.0 260.0 492.2 256.4 486.0 255.6 481.0 257.7 477.0 278.3 457.0 282.7 451.0 283.2 447.0 282.4 442.0 280.5 436.0 276.6 428.0 275.7 423.0 276.7 419.0 282.0 412.7 284.0 409.3 285.1 401.0 284.7 396.0 283.0 391.0 281.6 389.0 279.0 388.1 275.0 389.1 272.0 391.5 265.0 402.6 263.0 404.6 249.0 404.7 246.0 403.6 241.0 400.2M428.4 446.0 431.5 433.0 430.9 429.0 428.0 425.9 422.0 422.3 417.0 421.0 414.0 421.6 412.4 424.0 412.1 427.0 413.0 430.9 415.0 434.9 419.0 440.8 423.0 444.7 427.0 446.8 428.4 446.0M322.3 522.0 328.0 520.8 339.7 515.0 346.0 513.5 348.0 512.4 350.3 509.0 352.0 500.0 352.0 492.0 351.0 485.2 348.2 474.0 343.8 461.0 340.2 445.0 338.6 442.0 336.0 439.1 332.0 436.5 329.0 435.8 325.0 436.5 315.0 441.4 297.7 448.0 294.3 450.0 292.2 452.0 291.3 454.0 291.4 457.0 295.2 470.0 295.7 477.0 295.0 480.0 287.7 495.0 285.7 502.0 286.4 505.0 289.8 511.0 294.6 515.0 311.0 520.8 317.0 521.9 322.3 522.0M424.1 514.0 427.0 512.7 431.0 507.4 439.0 505.6 441.0 504.4 447.4 496.0 452.6 491.0 454.4 486.0 454.1 482.0 451.3 468.0 450.0 463.8 448.0 460.3 444.0 456.0 440.0 453.2 436.0 451.6 430.0 450.4 428.0 450.6 417.0 455.5 414.0 457.9 412.0 462.6 409.3 477.0 408.0 479.6 404.9 483.0 406.0 485.9 410.4 491.0 411.9 495.0 411.8 498.0 409.4 502.0 409.6 504.0 412.0 506.1 416.9 508.0 420.8 513.0 424.1 514.0M467.7 534.0 469.6 532.0 470.9 529.0 472.2 519.0 471.9 514.0 471.0 510.1 470.0 508.5 468.0 507.5 463.0 509.2 458.0 513.4 455.0 518.3 453.8 524.0 455.0 528.8 459.0 533.1 464.0 534.9 467.7 534.0M644.7 683.0 645.8 680.0 645.5 678.0 644.0 675.9 642.0 675.8 640.3 678.0 640.4 681.0 642.0 683.5 643.0 684.0 644.7 683.0M241.0 333.4 250.0 338.1 258.0 343.6 272.0 351.0 279.0 352.0 282.0 351.4 285.0 349.3 286.8 346.0 287.0 341.0 285.7 337.0 283.0 333.2 277.0 327.8 274.0 324.3 269.3 312.0 268.9 304.0 270.0 298.1 273.0 291.1 278.2 284.0 279.2 280.0 278.9 277.0 277.0 274.9 270.0 272.9 268.0 271.2 265.5 265.0 266.4 260.0 265.9 258.0 263.9 256.0 256.1 251.0 252.0 245.0 250.0 244.2 248.0 244.2 241.0 246.6M276.5 410.0 280.0 406.6 281.5 401.0 280.7 396.0 279.0 393.8 277.0 392.9 274.0 393.8 272.0 395.8 270.8 398.0 270.3 401.0 270.9 405.0 272.4 408.0 275.0 410.1 276.5 410.0M241.0 464.0 253.0 461.1 258.0 458.2 261.0 454.8 264.7 449.0 266.3 445.0 266.6 442.0 265.9 436.0 264.3 430.0 262.0 425.0 259.9 422.0 257.0 419.5 253.0 417.4 247.0 415.5 241.0 414.4M324.5 511.0 329.0 508.6 336.0 500.9 342.0 498.8 344.0 497.4 345.6 495.0 346.1 492.0 345.0 488.9 340.5 483.0 337.1 468.0 335.0 463.2 333.0 460.3 331.0 458.9 328.0 458.0 317.0 457.5 313.0 458.5 310.1 460.0 307.9 462.0 306.0 465.0 300.9 485.0 300.3 491.0 301.0 494.0 303.0 497.7 311.7 508.0 314.9 510.0 317.9 511.0 324.5 511.0M431.4 489.0 433.8 487.0 435.7 484.0 436.1 480.0 435.3 477.0 433.0 474.1 430.0 472.5 426.0 472.0 423.0 472.6 420.6 475.0 418.6 479.0 418.4 482.0 419.2 485.0 421.8 488.0 425.0 489.6 428.0 489.9 431.4 489.0M241.0 326.6 253.0 333.0 261.0 338.4 269.0 340.0 272.0 339.8 273.3 339.0 273.4 337.0 272.5 334.0 265.1 316.0 263.4 304.0 264.1 297.0 270.4 283.0 270.7 279.0 264.5 271.0 262.5 266.0 261.3 260.0 260.0 258.3 246.0 254.2 241.0 253.6M241.0 453.4 247.0 452.0 251.0 449.5 254.2 445.0 255.4 439.0 254.4 434.0 251.0 429.1 247.0 426.6 241.0 425.3M241.0 318.4 247.0 323.1 250.0 324.6 258.0 326.5 260.5 326.0 261.0 322.0 258.1 305.0 257.7 299.0 258.3 295.0 261.7 286.0 262.1 282.0 261.6 278.0 260.2 274.0 255.0 265.7 250.0 262.6 241.0 260.5M241.0 442.7 243.9 441.0 244.4 439.0 243.4 437.0 241.0 435.8M241.0 308.7 246.0 305.4 248.7 302.0 254.6 287.0 255.4 283.0 254.4 277.0 251.0 271.6 247.0 268.8 241.0 267.4M241.0 299.2 243.7 294.0 247.5 283.0 247.0 280.0 245.9 278.0 244.0 276.4 241.0 275.6" fill="none" stroke="#000" stroke-width="1" stroke-dasharray="4 3" shape-rendering="crispEdges"/>
<rect x="290.0" y="177.0" width="18.9" height="11" fill="#fff"/><text filter="url(#nf2)" class="lb" x="301.0" y="187.5" textLength="6.4" lengthAdjust="spacingAndGlyphs">5</text>
<rect x="370.2" y="272.0" width="18.9" height="11" fill="#fff"/><text filter="url(#nf2)" class="lb" x="381.2" y="282.5" textLength="6.4" lengthAdjust="spacingAndGlyphs">5</text>
<rect x="274.5" y="341.0" width="26.3" height="11" fill="#fff"/><text filter="url(#nf2)" class="lb" x="285.5" y="351.5" textLength="13.8" lengthAdjust="spacingAndGlyphs">15</text>
<rect x="262.8" y="353.5" width="26.3" height="11" fill="#fff"/><text filter="url(#nf2)" class="lb" x="273.8" y="364.0" textLength="13.8" lengthAdjust="spacingAndGlyphs">10</text>
<rect x="266.5" y="369.5" width="18.9" height="11" fill="#fff"/><text filter="url(#nf2)" class="lb" x="277.5" y="380.0" textLength="6.4" lengthAdjust="spacingAndGlyphs">5</text>
<rect x="312.6" y="417.2" width="18.9" height="11" fill="#fff"/><text filter="url(#nf2)" class="lb" x="323.6" y="427.7" textLength="6.4" lengthAdjust="spacingAndGlyphs">5</text>
<rect x="307.5" y="431.8" width="26.3" height="11" fill="#fff"/><text filter="url(#nf2)" class="lb" x="318.5" y="442.3" textLength="13.8" lengthAdjust="spacingAndGlyphs">10</text>
<rect x="308.2" y="502.0" width="26.3" height="11" fill="#fff"/><text filter="url(#nf2)" class="lb" x="319.2" y="512.5" textLength="13.8" lengthAdjust="spacingAndGlyphs">15</text>
<rect x="422.9" y="504.5" width="26.3" height="11" fill="#fff"/><text filter="url(#nf2)" class="lb" x="433.9" y="515.0" textLength="13.8" lengthAdjust="spacingAndGlyphs">10</text>
<rect x="505.9" y="595.0" width="18.9" height="11" fill="#fff"/><text filter="url(#nf2)" class="lb" x="516.9" y="605.5" textLength="6.4" lengthAdjust="spacingAndGlyphs">5</text>
<rect x="641.5" y="561.3" width="18.9" height="11" fill="#fff"/><text filter="url(#nf2)" class="lb" x="652.5" y="571.8" textLength="6.4" lengthAdjust="spacingAndGlyphs">5</text>
<path d="M290.5 183.0h9M370.7 278.0h9M275.0 347.0h9M263.3 359.5h9M267.0 375.5h9M313.1 423.2h9M308.0 437.8h9M308.7 508.0h9M423.4 510.5h9M506.4 601.0h9M642.0 567.3h9" stroke="#000" stroke-width="1" fill="none" shape-rendering="crispEdges"/>
<path d="M603.5 69L609.5 100M609.5 100L600 106M608.5 95L599 99.5M607.5 90.5L601.5 92.5M783 89L775 95.5L783 93L776 99.5M603.5 279L603.5 309M603.5 309L592 313M603.5 304L594 307.5M603.5 299L596 300.5M603.5 309L603.5 313L596 312M783 301L777.5 304L783 305L778 310M594.5 487L597 502L602 512M602 512L591 520.5M601 508L592 512.5M602 512L603 517L596.5 518M783 510L775 515M783 516L776 520M783 519L777 524M391.5 478L393 488.5H419.6M393 488.5L397 481.5L398.5 488.5L401.5 483L402.5 488.5" fill="none" stroke="#000" stroke-width="1" shape-rendering="crispEdges"/>

<g shape-rendering="crispEdges"><path fill="none" stroke="#000" stroke-width="1" d="M322.6 68l-1.7 3 -4.9 4.6 -14.5 8.4 -7.5 2.7 -15 2.6 -5 2.1 -4 3.6 -7 9.9 -1.6 3.1 -1.6 6 -0.5 6 3.5 25 -1 17 0.3 6 0.9 3 1.9 3 1.3 6 2.3 5 2.8 3 5.7 2.9 9 2.5 8 1.2 8 0.3 13 -0.6 3 -0.7 2 -1.2 5 -5.6 3 -7.4 2 -7.6 4.6 -39.8 2 -11 9.2 -30 2.4 -6 1.5 -7 4.3 -6.2 1.8 -3.8M536.9 68l1.4 19 3.3 9 2.4 3.8 2.4 2.2 4.6 2.1 5 0.9 5 -0.8 6.4 -2.2 3.4 -2 3.1 -3 7.1 -8.8 3.3 -5.2 1.6 -4 2.9 -11M783 78.4l-8.3 6.6 -3.7 4 -4.3 7 -8.8 12 -2.9 6 -5.4 14 -9.9 17 -2.9 4 -9.8 9 -4 4.7 -1.9 5.3 -1.5 10 1.3 4 1.8 3 3.3 4 3.8 3 3.2 1.3 4 0.7 9.5 0 8.2 -2 10.5 -5 10.8 -8 7 -7.6M473.7 242l4.3 -1.5 4 -2.2 3 -2.5 3 -3.9 1.7 -3.9 0.7 -4 -0.2 -4 -1.2 -4 -2 -3.4 -3.2 -3.6 -3.8 -2.7 -4 -1.9 -5 -1.2 -4 -0.3 -5 0.6 -5 1.5 -3.6 2 -3.4 2.7 -4.4 6.3 -1 3 -0.5 4 0.5 4 1 3 1.7 3 2.7 3.2 3 2.4 4 2.1 8 2 4 0zM241 515.9l5 0.6 6 1.7 8 3.4 4 2.6 6.1 5.8 7.8 9 8.1 13.3 3 2.8 4 1.7 5 0.4 6 -0.4 14 -3.6 12 -2.3 23 -1.9 3 -1 3.1 -2 2.4 -3 1 -3 0.1 -14 -2.1 -11 1.7 -11 0.2 -6 -3.4 -34.6 -1.6 -9.4 -3.6 -14 -3.9 -18 -1.7 -3 -3.2 -2.9 -7.8 -3.1 -6.2 -1.3 -15 -0.3 -8 -2 -7.3 -4.4 -3 -3 -2.1 -3 -2.8 -8 -0.3 -4 0.4 -5 1.6 -6 5.5 -14.1 4.8 -14.9 1.6 -11 -0.3 -7 -1.1 -6.9 -5.9 -22.1 -9.1 -22.2 -3 -5.2 -4 -3.6 -7 -2.6 -1.6 -1.4 -5.4 -12 -4 -5.1 -4 -7 -7.2 -8.9 -3.8 -3 -9 -4.7M568.7 700l-2.8 -44 0 -8 1.7 -14 6.8 -33 0.1 -18 1.1 -19 -1.1 -13 -1.7 -7 -1.8 -5 -3 -5.5 -3.7 -4.5 -14.7 -12 -7.7 -8 -4.6 -4 -28.3 -17.9 -19 -8.6 -6 -5.2 -5.6 -6.3 -3 -5 -1.7 -5 -5.7 -28.1 -3 -11.3 -4 -11.5 -5 -10.4 -1.9 -7.7 -1.7 -4 -3.1 -4 -4.3 -3.4 -3.5 -1.6 -7.5 -1.8 -3 -1.4 -9 -9.2 -15.2 -13.6 -1.1 -2 -2.5 -11 -4.8 -9 -2.9 -8 -6.4 -37 -2.1 -7.2 -2 -3.1 -2 -1.7 -2 -0.2 -3 1.1 -2 -0.2 -4.2 -3.7 -1.8 -0.7 -3 1.4 -3.1 4.3 -1.5 5 -1 9 -1.2 23 -1.6 16 -0.8 26 0.2 12.2 2.4 18.8 -2.5 11 0.2 6 1.9 4.1 3 2.4 19 5.9 8 3.9 4.4 3.7 3.3 5 2.6 8 0.8 12 -0.8 6 -8.4 38 -0.2 6 1.8 8 3.5 8.1 6 6.9 5 3.1 9 3.2 8 3.7 7.5 6 5.8 6 2.9 5 1.6 6 0.4 7 -1.1 8 -4.1 10 -2.8 4 -2.2 2.1 -14.6 6.9 -15.4 9.8 -14.5 7.2 -5.9 4 -9.6 8.3 -5 3 -17.1 6.7 -4.9 1.4 -5 -0.3 -9 -2.7 -5 0 -17 4.5 -17 2.1 -8.1 3 -2.5 2 -2.4 3.1 -4.8 10.9 -3.4 13 -2.5 18 -2.1 5 -2 2 -3.2 1.6 -17 5.9 -2 1.5 -1 2M734.5 366l4.5 -1.3 3 -2 3.5 -3.7 1.8 -3 1.3 -5 1.8 -14 3 -16 0.1 -15 -2.5 -9.6 -3.2 -5.4 -2.8 -1.8 -3 -0.7 -4 -0.1 -4 1.1 -10.3 5.5 -6.7 2.2 -3 1.9 -7.1 6.9 -10.9 14.8 -3 6.1 -1.1 5.1 0.5 7 2.8 7 5.2 7 9.6 9.7 6 3.5 7 -0.4zM655.1 700l2 -23 2.5 -88 1.3 -23 -1 -36 -1.6 -18 -1.4 -6 -2.3 -7 -9.6 -20 -5 -6.2 -14 -12.1 -2.8 -4.7 -3.2 -9.5 -4 -6.6 -3 -3 -4 -1.1 -2 0.6 -2 1.6 -3 5.3 -6.7 21.7 -0.8 7 -0.2 20 0.7 5 1.7 5 9.9 17 3.4 7.1 6 25 1.6 22.9 2.5 15 -1.4 17 0.5 41 3.2 30 2.6 15 0.1 8M452.8 700l-2.4 -21 -1.4 -5 -3.7 -9 0 -3 1 -2 1.9 -2 3.2 -2 6.6 -3 5 -1.6 11 -1.5 20 -0.9 11 0.6 7 1.6 5 2.8 4.9 5 2.1 4.4 2 7.6 1.4 21 1.2 8M241 114.4l3 5.5 5.4 13.1 1.5 5 1.7 12 -0.6 15 0.4 7 1.6 5 1.7 8 3.3 5.3 6.4 5.7 6.6 3.4 4 1 18 1.9 8 1.6 9 0.7 5.9 2.4 11.1 7.3 3 0.1 3 -2.6 4 -7 1.4 -3.8 1 -23 1.1 -5 2.7 -21 2.2 -10 5.6 -15.7 8 -14.6 12 -17.5 4 -4.7 3 -2.5 4 -2.1 16 -5.4 8 -1.5 7 -4.6 5.7 -5.4M529.3 68l1.1 4 -1.4 6 -7.1 12 -2.6 7 -3.5 6 -2.1 5 -1.6 8 0.2 7 1.6 4 2.1 2.6 7 3.4 6 3.8 3.2 3.2 1.1 3 0.4 3 -0.3 12 0.4 5 1.2 4 2.4 4 2.6 2.4 3 1.6 4 1 6 0.4 5 -0.5 4 -1.9 2.5 -3 1.4 -5 0.7 -13 -0.6 -7.7 -2 -5.1 -6.8 -11.2 -0.5 -2 0.6 -2 4.1 -4 14.6 -7.9 8.5 -7.1 8.3 -9 4.5 -8 1.5 -4 1.4 -8 0 -9M668.5 68l3.5 1.3 12 2.2 7 2.1 8 0.9 6 -0.9 13 -4.5 1.5 -1.1M764.3 68l-3.7 5 -5.1 11 -8.6 14 -2.4 12 -2 7 -3.1 8 -4.1 8 -8.6 14 -10.7 11.8 -4.4 6.2 -2.9 10 -0.1 4 1.1 4 2.3 4.4 2.6 3.6 4.4 4.6 6 3.7 9 2.9 10 0.9 11 -1 19 -4.6 9 -4M641.3 123l4.4 -1 3.3 -3 2 -4 1.2 -6 0.2 -9 -0.9 -6 -1.5 -2.4 -2.9 -2.6 -4.1 -1.4 -3 0.2 -4 1.1 -7.5 4.1 -4.6 5 -1.4 3 -0.6 3 0.1 3 0.9 3 3.1 4.5 7.6 6.5 3.4 1.4zM472.6 247l5.4 -1.4 5 -2.3 4.5 -3.3 3.6 -4 2.7 -5 1.3 -5 0.1 -5 -1 -5 -2.2 -4.8 -3 -4.2 -4 -3.6 -5 -3 -5 -1.8 -6 -0.9 -6 0.2 -6 1.4 -5 2.1 -4.1 2.6 -3.9 3.7 -3.1 4.3 -1.7 4 -1.1 5 0.1 5 1 4 1.9 4 3 4 3.9 3.4 4 2.5 5 2 5 1.1 5 0.4zM659.6 700l8.8 -160 -0.3 -46 -2 -14 -4.1 -16 -1.5 -4 -7.5 -11.6 -16 -19.3 -10 -9.6 -6.2 -4.5 -4.8 -2.8 -5 -1.8 -4 -0.5 -4 0.6 -3 1.6 -3.4 3.9 -3 6 -3.6 12 -4.3 19 -2.5 7 -3.4 7 -4.8 7.2 -5 5 -6 4.1 -7 2.9 -7 1.5 -5 0.5 -5 -0.3 -5 -1.2 -9 -4 -15 -9 -15 -7.6 -3.8 -3.1 -3.2 -3.8 -2.3 -4.2 -2.3 -6 -3 -14 -3.3 -27 -1.6 -9 -3.3 -13 -3 -7 -6.2 -7 -8 -6.7 -8 -5.3 -21 -12.4 -10 -7 -2.8 -2.6 -5.6 -10 -6.6 -10 -6.3 -21 -4.7 -25 -1.5 -4 -3.5 -4.8 -4 -3.4 -3 -1.4 -6 -1.5 -5 0.8 -4.5 2.3 -2.8 3 -1.7 4.5 -3.3 43.5 -3.2 56 -2 16 -2.9 10 -2 4 -2.6 3 -3 1.7 -3 0.8 -6 0.4 -7 -0.7 -7 -1.5 -5 -2 -3 -2.2 -2.1 -2.5 -1.5 -3 -0.8 -4 0.4 -11 4.6 -29 0.6 -15 -1.7 -13 -7.5 -30.8 -6.3 -15.2 -4.7 -9 -3 -4.2 -4 -3.9 -4.6 -5.9 -9.7 -10 -1.6 -3 -2.1 -6.6 -2.6 -4.4 -3.4 -2.8 -6 -2.8 -7 -5.4 -5 -2.2M656.7 245l4.3 -0.5 3.1 -1.5 3.2 -4 1.6 -4 0.2 -5 -1 -4 -2.1 -3.2 -3.4 -2.8 -3.6 -1.7 -4 -1.1 -12 1.8 -10 3.3 -3 2 -2.3 2.7 -1 4 0.8 3 2.4 3 6.1 4.4 3.7 1.6 6.3 1.4zM783 262.3l-15 0 -8 -1 -19 0.5 -20 5.3 -7 2.6 -3.9 2.3 -5 4 -3.6 4 -12.5 15.6 -8 11.8 -3.7 7.6 -2.5 7 -1.9 9 -0.4 6 1.5 12.5 4.1 13.5 3.7 8 7.8 13 9.8 19 4.2 6 3.8 4 15.6 12.8 6 3.7 3 1 3 0.3 3 -0.8 2 -1.3 11.3 -14.7 15.7 -17.5 5 -4 11 -5.5M783 354.5l-1.7 -6.5 -1.4 -9 -1.1 -21 1.2 -10 1 -3 2 -2.9M539.5 342l13.5 -2.8 3.1 -1.2 2.7 -2 1.7 -3 0.4 -3 -0.9 -4 -2 -2.8 -2 -1.4 -3 -1 -6 -0.5 -6 -1.6 -4 0.2 -9.1 4.1 -6.8 4 -5 4 -2.8 4 -0.3 2 1 2.4 2 1.8 3 1.4 3 0.4zM379 510.6l-2 0 -2 -2.7 -2.4 -6.9 -2.9 -12 -3.1 -35 -2.9 -22 0.7 -2 4.6 -4.4 3 -2 3 -0.6 3 0.2 4 1.3 2.6 1.5 2.4 2.2 3.1 5.8 1.3 8 -0.5 11 -6.3 44 -2.6 9.5 -1.4 2.5zM241 527.2l11.9 6.8 6.2 5 2.4 3 1.6 3 1.6 7 -1.1 6 -4.6 7.3 -8 5.3 -10 4M416 562l-4 -0.1 -4 -1.8 -2.8 -3.1 -1.5 -4 0.1 -4 2.2 -4.6 3 -2.7 4 -1.3 4 0.2 4 1.9 3.1 3.5 1.2 4 -0.3 4 -2 4 -3 2.6zM335 604.3l-4 0.4 -4 -0.8 -15 -6.1 -2.2 -1.8 -1.7 -3 -0.1 -2 1.3 -3 2.8 -3 8.6 -6 7.3 -3 4 -0.3 7.9 1.3 3.6 1 3.5 1.8 3 2.8 1.5 3.4 0.2 3 -1.4 5 -1.3 2 -3.4 3 -5 3zM580.5 700l0.9 -30 1.9 -17 5.3 -32 3.4 -13.9 3.3 -10.1 0.7 -8 2 -1.4 1.7 0.4 1 1 1.3 3.6 5.4 47.4 6.6 30 3.5 30M783 236.2l-12 2.2 -9 2.8 -37 6.3 -11 1.2 -13 -0.4 -7 -1.2 -3 -2.4 -3 -5.3 -5.7 -14.4 -3.1 -6 -4.4 -5 -2.8 -1.9 -2.9 -1.1 -6.1 -1.6 -3 -0.2 -13 3 -9 1.1 -12.1 3.7 -3.8 2 -3.1 2.7 -1.8 2.3 -1.4 3 -0.6 3 0.2 4 1.2 4 1.9 4 2.5 3.4 3 2.5 7 2.9 12 2.8 14 2 22 1.7 4 1.6 1.1 2.1 -0.8 10 -2.3 9 -3.8 8 -13.8 24 -4 10 -3 11 -1.3 11 -0.1 8 0.9 9 3.8 22 0.2 5 -0.5 4 -4 10 -2.4 2.1 -3 0.5 -4 -1.3 -7.6 -5.3 -14.4 -8.3 -11 -4.4 -6 -1.1 -6 0.2 -4 1 -5 3 -4.2 4.6 -2.9 8 -5.5 40 -3.1 13 -2.3 4 -6 7.2 -5 4.3 -5 2.6 -4 0.7 -13 0.2 -4 -0.6 -5 -1.7 -10 -4.4 -11 -5.9 -8 -6.1 -5 -5.2 -2.6 -4.1 -2.4 -5.8 -2.3 -11.2 -1.3 -24 0.4 -23 1.2 -8 2 -5.5 2 -2.5 5 -2.3 6 -1.4 7 -0.9 36 -0.2 18 -1.2 11 -2.3 3.5 -1.7 2.4 -2 2.4 -4 1 -6 -0.2 -6 -2.4 -18 -1.7 -5.1 -3 -5 -4 -3.8 -5 -2.5 -7 -1.5 -11 -0.6 -7 1.2 -8 3 -10.5 5.3 -24.5 14.3 -12.6 6.7 -3.7 3 -2.7 3 -4 7 -6 4.4 -4 1.5 -4 -0.3 -9 -3.3 -24 -6.5 -7 -3.8 -6 -4.6 -5 -5.8 -10.6 -14.6 -7.4 -22.9 -3.9 -23.1 -2.6 -5 -6.5 -7 -5 -3 -5 -1.5 -5 -0.7 -4.6 0.2 -4.4 1 -3 1.4 -1.7 1.6 -1.3 2.6 -0.7 3.4 -0.3 31 -0.7 18 -3.6 51 -1.3 10 -1.7 8 -1.7 5.4 -2 4.1 -2 2.7 -3 2.5 -3 1.4 -4 0.5 -4 -0.8 -4 -1.6 -3 -1.8 -2.3 -2.4 -1.7 -3 -1 -4 -0.6 -8 1 -30 -0.6 -13 -2 -13 -8.8 -41.3 -4.6 -11.7 -4.7 -8 -6.6 -7 -11.7 -11 -3.4 -4 -1 -2 -2 -7.3 -4.3 -9.7 0.2 -2 21.1 -2.4 5 0.3 5 1.1 6.4 3 6.6 4.7 8.7 11.3 6.5 5 3.8 1.7 4 0.6 4 -0.9 3 -1.9 3 -3.3 1.7 -3.2 3.7 -15 1.3 -10 0.9 -26 3.2 -21 3.7 -12 4.9 -10 2.9 -4 4.7 -4.3 7 -5.5 7 -4.4 13 -6.1 13 -2.8 6 -3.4 5 -5.6 9 -15 5.8 -7.9 6.9 -6M523.7 68l0.8 3 -0.8 2 -13.3 17 -2.4 4.6 -2 6.4 -1.9 9 -0.9 7 0 5 1.8 7.5 4 9.4 6 9.1 8.6 10 4 14 2.6 4 3.8 3.4 3.5 1.6 4.5 1.1 13 1 4 -0.9 4 -1.7 6 -4.5 2.7 -4 2.7 -10 4.3 -27 1.3 -5 3.2 -5 6.8 -4.4 7 -2.2 6 -0.2 4 1.1 16 7.4 7.8 2.3 13.2 1.5 4 -0.6 3 -1.5 4 -4.7 4.3 -11.7 1.3 -6 1.4 -12 0.3 -8 1.7 -2.9 3 -2 4 -1.5 5 -0.5 9 0.2 11 1.5 13 -1 17 1.3 2 1.1 2.4 3.8 3.8 12 0.7 10 -1.1 10 -3.3 10 -5.8 11 -5.6 8 -12.3 15 -4.5 7 -1.8 6 -0.2 3 0.7 7 1.9 6 3.7 6 5.4 5.5 10 6.7 9 3.5 12 2.4 12 1.3 18 -0.1 10 -1.8M241 135.5l2.7 5.5 1.8 9 0.3 26 -0.7 12 1 9 -1.1 2 -4 0.6M468.4 252l6.6 -0.8 6 -1.8 6 -3.2 5 -4 4 -5 2.5 -5.2 1.3 -5 0.2 -6 -1.1 -6 -2 -5 -3.2 -5 -4.7 -4.9 -5 -3.4 -6 -2.6 -6 -1.3 -7 -0.3 -7 1 -6 1.9 -6 3.2 -5 4 -4 4.7 -3.1 5.7 -1.5 5 -0.5 6 1 6 2.1 5 3.6 5 4.4 4.1 6 3.8 6 2.3 7 1.5zM663.2 700l5.4 -83 4.7 -45 4.4 -29 3.5 -45 0.3 -22 2.2 -15 1.6 -6 2.7 -4.5 3 -2.2 4 -0.7 5 0.8 6 2.3 6 3.5 6 4.8 7 6.9 5 3.5 5 1.9 4 -0.9 3 -2.1 4 -4.2 6 -9.5 7 -9.4 13.1 -24.2 5.5 -6 5.4 -3.9M752.6 579l5.4 -1.8 5 -2.9 11.8 -11.3 3.2 -4.3 2 -4 0.8 -4.7 -0.4 -4 -1.3 -3 -6.1 -8 -23 -22.8 -5 -4 -4 -2.4 -4 -1.3 -3 0 -3 1.4 -2.5 3.1 -1.5 3.6 -2 7.6 -2.2 13.8 0.4 5 1.4 7 6.4 17.4 3 5.3 4 5.3 3 2.9 4 2.2 3 0.5zM241 538.1l2.1 1.9 1.8 3 1.3 6 -0.4 3 -0.9 2 -1.9 2.2 -2 1.1M592.3 700l1.7 -7.1 5 -9.3 2 -1.3 2 1.6 1 1.9 4.5 14.2M783 686.4l-2 -1.5 -1.7 1.1 -5.3 6.9 -3.2 7.1M517.9 68l-0.5 2 -4.4 5 -5 4.6 -5 2.9 -2 3.3 -1.6 6.2 -2 13 -0.9 13 0.2 5 3.7 17 2.4 7 2.1 4 11.6 15 3.4 8 3.3 5 6.4 6 5.4 2.3 13 1.3 9 -0.5 8 -3.1 7 -4.9 4.5 -5.1 2.4 -5 2.1 -6.8 2.9 -13.2 2.4 -6 2.7 -4 3.8 -4 3.2 -2.6 4 -2.2 4 -1.1 4 0.2 16 4 13 2.2 11 0 3 -0.8 3.1 -1.7 3.9 -3.7 2.3 -4.3 10.8 -32 2.1 -3 3.8 -2.6 4 -0.9 7 -0.2 13 0.5 7 1.4 6 2.7 4 2.9 3.7 4.2 2.9 5 1.5 5 0.4 7 -0.6 6 -1.9 6 -3 6.4 -4 6.4 -16.7 20.2 -5.4 8 -2.9 8 -2.2 16 -1.8 3.9 -2 1.5 -4 1.4 -15 1.4 -20 5.7 -13 1.7 -11 2.6 -5 2.4 -4.8 3.4 -2.8 3 -2.3 4 -1.2 5 -1.2 19 0.8 6 2.5 4.7 3 1.7 6 1.3 19 1.2 9 1.6 7 2 3.8 1.5 2.9 2 2.8 3 1.4 3 0.6 4 -0.7 4 -3.6 9 -2.1 4 -12.1 13.9 -6 4.7 -5 2.8 -4 1.4 -5 0.7 -6 -0.4 -4 -1.4 -5 -4 -3.3 -3.7 -2.7 -4.3 -4.9 -9.7 -4.5 -6 -2.6 -1.8 -2.8 -1.2 -9.2 -1.7 -19 0.1 -7 0.8 -5 1.4 -5 2.4 -8 5.1 -6 3 -17 10.1 -18 9.5 -12.6 4.3 -13.4 6.8 -10 2.4 -8 0.3 -10 -0.8 -7 -1.4 -7 -2.5 -4 -2.4 -3.7 -3.4 -12.3 -14.9 -3 -6.4 -5 -14.7 -2.3 -10 -1.7 -16.7 -3.8 -8.3 -3.8 -4 -5.4 -3.2 -9 -3.4 -8 -2 -2.8 -1.4 -4.2 -3.9 -2.1 -4.1 -0.7 -8 1 -38 3 -20 2.1 -8 2.7 -7 3.4 -6 3.6 -4.4 6 -3.8 7 -1.4 12 -4.6 15 -3.8 5 -2.1 4 -2.4 2.6 -2.5 2.1 -3 9.2 -19 5.1 -8 11 -11.2 10.8 -7.8M474.3 256l7.7 -2.1 7 -3.5 6 -4.6 4.8 -5.8 3.2 -6.6 1.7 -7.4 0 -6 -1.5 -7 -2.8 -7 -4.3 -6 -5.6 -5 -6.5 -4 -7 -2.5 -8 -1.2 -8 0.3 -7 1.5 -7 2.8 -7 4.2 -5.3 4.9 -4.4 6 -2.9 6 -1.5 6 0.2 6 1.4 7 2.1 5 3.4 5 5.3 5 6 4 7.7 3.2 7 1.7 8 0.7zM298 238.4l-7 -2.3 -6 -3.9 -3.1 -4.2 -0.1 -2 0.6 -1 3.2 -2 4.4 -1.4 4 0.2 2.2 1.2 2.2 3 1 4 -0.4 6.2zM333 376.1l-4.1 -0.1 -1.9 -1.2 -2 -2.4 -3 -7.4 -2 -10 -1.8 -36 -6.1 -29 -1.9 -17 0.1 -9 0.9 -8 1.8 -5.3 3 -1.6 5 0.2 7 1.5 6 1.8 3 1.9 4 4.3 2.5 4.2 1.5 4.6 1.1 6.4 1.3 17 0.1 11 -0.6 7 -3.1 20 -0.2 16 -0.7 9 -1.9 9 -2.1 6 -2.9 5zM553 460l-6 0 -8 -1.5 -10 -3 -8 -3.2 -5 -2.9 -6 -4.8 -4 -4 -2.4 -3.6 -1.8 -6 -1.2 -10 0.1 -11 1 -8 2.1 -9 2.4 -6 3.7 -5 4.1 -2.7 5 -1.7 6 -0.6 16 1.2 9 1.3 7 2 5 2.4 4 3.2 2.6 3.9 2.8 11 1.8 17 -0.3 8 -2.2 18 -2.2 5 -3.5 4 -6 4zM783 506.8l-10 -6.4 -6.3 -5.4 -4 -6 -1.2 -6 0.8 -6 3.7 -10 9.6 -21 5.4 -10.4 2 -2.8M667 700l1.1 -23 3.2 -29 1.6 -29 3.7 -30 3.3 -13 10.8 -33 2.5 -12 2.8 -4.2 4 -2 2 0.3 1.8 2.9 7 22 9.2 21.9 9.1 20.1 6.9 21.5 2.5 6.5 5.5 8.6 11.5 12.4 2.6 5 1.1 8 -1.7 17 -0.8 29M509.3 68l-3.3 2.9 -3 1.1 -3.4 0 -6.6 -1.7 -2 0.3 -1.6 2.4 -0.6 4 0.9 21 0.3 24 2.7 24 1.8 7 3.2 7 12 17 0.4 3 -0.6 4 -1.6 5 -1.9 3.3 -3 1.7 -4 -0.5 -2.5 -1.5 -6.5 -5.8 -15 -6 -3 -0.4 -12 1 -12 4.6 -9 4.5 -8 2 -2.2 1.1 -4.7 5 -0.8 4 -0.8 1 -8.5 4.5 -3.4 2.5 -14.6 15.8 -6 4.7 -4 1.5 -5 0.2 -5 -1 -5 -2.4 -2 -1.8 -1.9 -3 -2 -7 -0.4 -6 0.4 -22 1.5 -10 3.4 -13.3 2.8 -7.7 3.2 -5.6 3 -3.3 3 -2 4 -1.1 10 -1 7 -2.3 12.1 -5.7 9.9 -5.8 4.6 -4.2 3.4 -4.2 9 -19.9 3.7 -5.9 4.3 -5.2 10 -8.6 9 -5.2 7 -5.2 8.6 -4.8M445 324l-6 -0.4 -6 -1.3 -4 -1.6 -4 -2.5 -4 -3.6 -4.7 -5.6 -5.4 -7 -3.2 -6 -4 -12 -1.8 -8 -0.8 -8 -0.5 -17 0.3 -5 1.1 -4.1 2.4 -3.9 3.6 -3.9 2 -0.7 2 0 6 2 5 3.6 8.1 8 6.9 5.8 7 3.6 9 3.2 8 1.5 10 0.1 6 -0.9 8 -2.6 5 -2.5 9.4 -6.2 3.6 -4 5.4 -15 1.4 -15 1.6 -7 1.6 -2.6 9.2 -10.4 1.8 -1.5 2 -0.6 8 0.9 22 -1 11 -3.6 7.6 -4.2 4.4 -4.3 3 -5.6 2.4 -7.1 2.4 -11 2.9 -8 3.3 -4.9 3.7 -3.1 4.3 -2.2 4 -0.8 7 0.4 17 2.9 11 1.1 9 -0.4 7 -2.6 3.5 -2.4 2.3 -3 7.3 -20 4.9 -9.6 4.7 -5.4 5.3 -2.9 8 -0.9 7 1.2 7.7 3.6 5.5 5 3.8 6 1.8 6 0 6 -1.8 6.7 -2.3 4.3 -3.7 5.1 -22 24.9 -4.2 9 -3.9 11 -1.9 2.9 -3.1 2.1 -23.9 11.3 -9 2.6 -14 1.4 -11 2.3 -8 3.4 -3 2.1 -2.8 2.9 -2.2 3.9 -1.2 4.1 -5.7 42 -1.1 2.8 -2 2 -5 2.6 -8 2.6 -23 2.8 -4 1 -6 2.8 -10 6.4 -9 4.3 -20.5 12.7 -14.5 7.2 -14 3.4 -9 3.9 -8 2.5 -6 1.2zM333 352.4l-2 0.6 -2 -1.2 -1.5 -2.8 -1.1 -4 -1 -10 1.1 -4 -1.3 -9 -1.5 -19 -1.3 -7 -2.8 -10 -0.6 -5 0.3 -5 1.9 -5 4.2 -4 2.6 -1.4 2 -0.4 2 0.4 2 1.2 3.8 5.2 2.2 6.6 0.8 8.4 -0.2 11 -1 13 -3.5 20 0.8 4 -0.6 7 -1.3 7.1zM553 443.2l-8 0.4 -8 -1.2 -14.3 -5.4 -2.9 -2 -1.5 -3 -0.5 -4 1.3 -12 2.1 -6 3.8 -4.2 3 -1.7 4 -1.1 9 0.3 4 0.9 4 1.7 3 2.1 3 3.3 3 4.5 1.8 4.2 1.1 5 0.2 5 -0.9 5 -1.7 4 -2.5 2.8zM671.3 700l1.1 -23 3.4 -30 3.2 -37.4 2.2 -16.6 1.3 -5 2.9 -7 1.3 -8 1.3 -3 5 -3.7 6 -1.5 3 0.6 2 1.1 2 1.9 2.4 3.6 6 13 6.1 18 10 34 6.9 27 3.1 19 1.6 17M390 208.1l-7 0.6 -3 -0.9 -2 -2.4 -1.2 -4.4 -0.1 -8 1.5 -8 2.6 -7 4.2 -6 5.8 -6 10.2 -6.8 6 -5 21 -11 6.9 -5.2 3.1 -3.6 2.7 -4.4 6.3 -13.9 4 -7.4 4 -5.6 4 -4.1 4.2 -3 4.8 -1.8 4 0.1 3 1.6 3 3.5 2.6 5.6 1 5 1 10 0.2 16 -0.4 9 -1.2 5 -3.1 5 -4.6 5 -4.5 3.4 -3 1 -5 0.1 -2 0.8 -4.1 6.7 -4.7 4 -7.2 3.3 -9 1.4 -9.1 3.3 -13.3 9 -12.6 11.6 -4 2.1zM447 317.1l-5 0.2 -6 -0.9 -5 -1.6 -4 -2.2 -4 -3.1 -4 -4.2 -4 -5.3 -2.8 -5 -2.9 -7 -2 -7 -1.2 -7 -0.3 -7 0.4 -7 1.5 -7 1.9 -4 2.4 -2.6 2 -1.2 2 -0.4 5 1.1 5 2.9 8 6.4 4 2.5 17 6.8 7 1.6 11 0.7 12 -1.5 6 -1.9 8 -5.1 3 -0.9 4 0 7 1.3 2 -0.3 2.5 -2.4 1 -3 -1.3 -8 -2.2 -8 1.8 -7 0.4 -8 1.6 -4 3.9 -5 4.1 -7 4.2 -3.9 4 -1.7 28 -4.1 14.2 -3.3 4.8 -2.3 2.8 -3.7 2.2 -5.2 5 -19.8 2.3 -7 2.1 -4 2.8 -3 4.8 -2.5 6 -0.8 33 3.2 9 -0.4 6.6 -1.5 5.4 -2.4 2.9 -2.6 7.9 -23 4.6 -7 5.6 -5.2 6 -3 4 0.2 7.2 4 4.8 4.6 2.7 4.4 1.5 5 -0.2 4 -1.9 5 -3.5 5 -6.6 7.6 -16.2 14.4 -1.8 2.9 -3 9.1 -4 8.7 -2 2.6 -6.3 5.7 -8.7 6.3 -10 4.7 -8 1.5 -19 1.5 -11 1.5 -7 2 -2.7 1.5 -2.1 2 -1.7 3 -1 4 0.2 14 -2.6 17 -4.1 13.7 -3 3.8 -7 4.3 -8 2.3 -12 1.5 -11 -1.2 -6 1.4 -7 4 -6.4 6.2 -12.6 9.2 -20 11.9 -9 3.9 -13 3 -12 4.7zM674.9 700l1.9 -24 5.4 -33 5.6 -41 1.5 -5 3.6 -6 3.1 -2.6 4 -1.1 3 0.8 2 1.4 4 5.4 3.7 8.1 3.7 11 9.6 31.3 4.6 18.7 2.5 15 1.5 21M690 136.1l-4 0 -3 -2.4 -2 -4.7 -0.3 -5 1.3 -4.3 3.3 -4.7 3.7 -3.1 4 -1 4 1.8 3 3.2 1.8 4.1 0.1 3 -1.1 3 -3.8 4.9 -4 3.8zM465 149.2l-4 -0.6 -3.2 -2.6 -2 -4 -0.8 -6 0.8 -11 1.2 -4 4 -5.1 3 -1.8 2 -0.4 3 1.2 2.4 3.1 1.5 5 0.3 6 -1.1 8 -2 7 -2.1 3.5zM627 194.1l-12 -0.2 -11 -1.5 -5 -1.9 -3.5 -3.5 -1 -3 -0.1 -3 1.9 -13 2.2 -8 3.3 -5 3.2 -2 4 -1 15 -0.3 21 1.8 16 0.5 3 0.7 1.7 1.3 2.2 3 1.1 3 -0.2 7 -2.2 6 -5.6 7 -8 6.5 -7 3.8 -7 1.3zM423 174.1l-5 0.1 -1.9 -1.2 -1 -2 0.2 -2 1.1 -3 1.6 -2 2 -1.2 3 -0.1 4 1 2.5 1.3 1.6 2 0.2 2 -1.3 2.1 -2.9 1.9zM564 264.1l-5 0.5 -5 -0.5 -5 -1.8 -6 -3.1 -4.6 -3.2 -3.2 -3 -3.9 -5 -2.7 -5 -2.8 -11 0.6 -8 6.1 -13 3.2 -3 4.3 -2.7 19 -3.4 9 -0.5 7 0.5 4 1.3 3 2.1 2.1 2.7 2.6 5 2.5 8 0.6 8 -1.6 10 -3.2 10.6 -3 5.4 -4.3 4 -5.7 2.8zM445 311.1l-9 -0.9 -4 -1.3 -4 -2 -4 -3 -4 -4 -4.5 -6.9 -2.6 -6 -1.8 -6 -0.7 -12 0.5 -5 1.1 -4 2 -3.6 3 -2.6 3 -0.7 4 0.9 11 6.9 10 3.4 14 6.4 28 7.6 7 1.4 2.4 1.3 0.2 2 -2 3 -4.5 4 -4.4 3 -27.7 14.7 -7 2.4zM678.1 700l3 -29 3.7 -19 5.3 -37 1.9 -6.1 2 -3.1 3 -2.2 4 -0.9 3 0.7 2.4 2.6 3.6 7.7 3.3 9.3 4.7 20.1 4.8 15.9 3 14 1.3 9 1 18M632 188l-7 0.6 -4.6 -0.6 -9.4 -2.7 -5 -3.3 -2.6 -4 -0.7 -4 1 -6 2.3 -3.8 2.8 -2.2 3.2 -1.4 9 -2.6 4 -0.5 14 1.4 12 1.9 4 1 1.8 1.2 2.4 4 0.4 5 -1.7 4 -3.9 4.8 -5 4.1 -4 2 -5 1zM565 258.2l-8 0.4 -7 -2.2 -3.8 -2.4 -3.2 -2.9 -3.3 -4.1 -1.7 -3 -3.1 -10 -0.3 -5 0.4 -4 1.4 -5 1.9 -4 2.8 -4 2.9 -2.2 4 -1.2 11 -1.9 11 0.6 3 1.1 5 3.3 3 3.1 1.8 3.2 1.7 6 0.4 6 -0.9 7 -2 6.3 -3 5.4 -4 4.6 -4 2.7zM446 305l-8 -0.3 -7 -2.4 -6.3 -4.3 -5.7 -6.4 -3.9 -9.6 -0.5 -7 0.8 -5 1.4 -4 1.7 -3 2.5 -2.3 2 -0.6 2 0.4 8 4.3 13 4 16.1 9.2 3.9 3 2.3 3 0.6 3 -1 3 -7.9 9 -7 4.1zM681.2 700l3.3 -29 3.2 -14 5.1 -34 1.2 -4 1.7 -3 2.3 -2.1 2 -0.4 2 0.9 3 4.4 2.1 4.2 2 6 3.9 22 4.7 17 1.9 9 1.3 10 0.7 13M632 181.1l-8 0.2 -6 -2.2 -2.6 -2.1 -1.3 -2 -0.3 -2 0.6 -2 2.6 -2.9 3 -1.9 3.4 -1.2 3.6 -0.3 6 0.9 7.9 2.4 4.1 1.9 2 2.1 0.2 3 -2.2 2.5 -3.9 1.5zM564 252.1l-6 0.4 -6 -2.2 -5 -4.3 -3.9 -6 -1.6 -8 0.4 -7 3.1 -7.7 2 -2.2 2 -1.1 10 -2.2 4 0 4 0.7 4 2.1 3.3 2.4 2.6 3 1.6 3 1 4 0.1 4 -0.6 4 -1.9 5 -2.3 4 -2.8 3.3 -4 3zM445 299l-7 -0.5 -5 -1.5 -5 -3 -5 -5.1 -2.7 -4.9 -1.3 -6 1 -6 2 -3.5 1 -0.7 2 -0.1 18 4.4 7.9 4.9 4.2 4 1.2 2 0.6 3 -0.2 3 -1.4 4 -1.4 2 -2.5 2 -3.4 1.5zM684.4 700l2.4 -15 1.2 -12.5 2.4 -9.5 2.6 -14.7 3 -10.7 2 -2.2 2 0.7 2 2.7 3.9 9.2 0.8 8 2.3 6 4.4 18 2.2 20M560 245l-4 -0.7 -4.1 -3.3 -3 -5 -0.8 -6 1 -5 2.1 -4 3.8 -2.1 6 -0.9 5 1.5 4 2.6 2.4 3.9 0.5 4 -1.6 6 -3.3 5 -4 2.9zM445 291.1l-3 0.4 -4 -0.5 -4 -1.5 -3 -2 -2.5 -2.5 -1.8 -3 -0.5 -3 0.9 -2 3.9 -1.9 4 -0.2 5 1.4 4 2.4 2.9 3.3 1.4 4 -0.6 3zM688.1 700l4.9 -25.5 3 -5.2 3 -1.3 2 0.8 1 1.4 4.7 10.8 1.5 6 1.5 13M693.6 700l1.4 -2.9 2 -1.7 1 0 2 1.4 2.3 3.2"/></g>
<path d="M472.5 67.5C470.6 73.2 464.7 89.1 460.8 101.7C456.9 114.3 453.0 130.1 449.2 143.3C445.4 156.5 442.2 168.3 437.9 180.8C433.6 193.3 428.1 206.5 423.3 218.3C418.5 230.1 412.6 242.0 408.8 251.7C405.0 261.4 402.8 267.0 400.4 276.7C398.0 286.4 395.6 298.9 394.2 310.0C392.8 321.1 392.3 332.3 392.1 343.3C391.9 354.3 392.8 367.4 392.9 376.0C393.0 384.6 393.6 389.2 392.5 394.8C391.4 400.4 388.9 404.1 386.3 409.3C383.7 414.5 379.5 420.4 376.9 426.0C374.3 431.6 372.0 437.1 370.6 442.7C369.2 448.2 368.3 454.1 368.5 459.3C368.7 464.5 369.4 469.4 371.7 473.9C374.0 478.4 377.9 481.5 382.1 486.4C386.3 491.3 392.9 497.5 396.7 503.1C400.5 508.7 403.2 514.5 405.0 519.8C406.8 525.1 408.1 529.9 407.5 535.1C406.9 540.3 404.8 546.6 401.7 551.2C398.6 555.8 393.2 559.6 388.6 562.8C384.0 565.9 378.4 568.1 374.0 570.1C369.6 572.1 365.5 572.3 362.0 574.5C358.5 576.7 355.6 580.4 353.2 583.3C350.8 586.2 348.8 588.1 347.4 592.0C345.9 595.9 344.8 600.5 344.5 606.6C344.2 612.7 344.7 621.2 345.9 628.5C347.1 635.8 348.6 642.0 351.8 650.3C355.0 658.5 360.5 670.0 364.9 678.0C369.3 686.0 375.8 695.1 378.0 698.5" fill="none" stroke="#cd00cd" stroke-width="2"/>
<path d="M339.4 489.5C339.8 488.3 339.4 484.6 341.5 482.3C343.6 480.1 349.1 475.3 351.9 476.0C354.7 476.7 357.4 484.0 358.1 486.4C358.8 488.8 358.6 488.6 356.0 490.6C353.4 492.6 345.3 498.7 342.5 498.5C339.7 498.3 339.9 491.0 339.4 489.5" fill="none" stroke="#cd00cd" stroke-width="2"/>
<path d="M783.0 358.0C780.7 359.4 772.5 363.3 769.0 366.4C765.5 369.5 763.9 373.0 761.7 376.6C759.5 380.2 757.3 384.8 755.8 388.0C754.3 391.2 754.3 389.5 752.9 395.6C751.5 401.7 749.3 414.6 747.1 424.8C744.9 435.0 742.7 448.1 739.8 456.8C736.9 465.6 731.9 471.3 729.6 477.3C727.3 483.3 727.9 484.1 725.9 493.0C723.9 501.9 720.4 519.6 717.9 530.8C715.4 541.9 712.3 548.5 710.6 559.9C708.9 571.3 708.2 588.8 707.7 599.0C707.2 609.2 707.8 613.9 707.7 621.2C707.6 628.5 708.0 636.2 707.0 643.0C706.0 649.8 704.2 656.6 701.9 662.0C699.6 667.4 696.5 671.7 693.1 675.1C689.7 678.5 685.4 680.7 681.5 682.4C677.6 684.1 673.2 683.8 669.8 685.3C666.4 686.8 663.2 689.0 661.0 691.2C658.8 693.4 657.4 697.3 656.7 698.5" fill="none" stroke="#f00" stroke-width="2"/>
</g>
<g shape-rendering="crispEdges"><rect x="866" y="563.4" width="20" height="45.3" fill="#7CFC00"/><rect x="866" y="518.4" width="20" height="45.3" fill="#EEEE00"/><rect x="866" y="473.4" width="20" height="45.3" fill="#FFD700"/><rect x="866" y="428.4" width="20" height="45.3" fill="#CD8500"/><rect x="866" y="383.4" width="20" height="45.3" fill="#FF7F00"/><rect x="866" y="338.4" width="20" height="45.3" fill="#EE4000"/><rect x="866" y="293.4" width="20" height="45.3" fill="#CD0000"/><rect x="866" y="248.4" width="20" height="45.3" fill="#8B0000"/><rect x="866" y="203.4" width="20" height="45.3" fill="#FF6A6A"/><rect x="866" y="158.4" width="20" height="45.3" fill="#FFAEB9"/><rect x="866" y="111.7" width="20" height="47.0" fill="#FF00FF"/></g>
<g filter="url(#nf)"><rect x="0" y="0" width="1024" height="768" fill="none"/><text class="t" x="46.00" y="38.4" textLength="58.98" lengthAdjust="spacingAndGlyphs">850mb</text>
<text class="t" x="117.50" y="38.4" textLength="63.00" lengthAdjust="spacingAndGlyphs">Vertical</text>
<text class="t" x="190.00" y="38.4" textLength="66.02" lengthAdjust="spacingAndGlyphs">Velocity</text>
<text class="t" x="265.00" y="38.4" textLength="57.00" lengthAdjust="spacingAndGlyphs">Temps</text>
<text class="t" x="332.50" y="38.4" textLength="31.00" lengthAdjust="spacingAndGlyphs">and</text>
<text class="t" x="374.50" y="38.4" textLength="47.99" lengthAdjust="spacingAndGlyphs">Winds</text>
<text class="t" x="45.00" y="57.2" textLength="187.01" lengthAdjust="spacingAndGlyphs">Pro.AccuWeather.com</text>
<text class="t" x="604.50" y="56.5" textLength="20.64" lengthAdjust="spacingAndGlyphs">48</text>
<text class="t" x="635.50" y="56.5" textLength="38.47" lengthAdjust="spacingAndGlyphs">hour</text>
<text class="t" x="684.00" y="56.5" textLength="27.47" lengthAdjust="spacingAndGlyphs">gfs</text>
<text class="t" x="721.50" y="56.5" textLength="37.47" lengthAdjust="spacingAndGlyphs">valid</text>
<text class="t" x="780.50" y="56.5" textLength="131.00" lengthAdjust="spacingAndGlyphs">06Z19JAN2015</text>
<text class="t" x="932.00" y="56.5" textLength="35.03" lengthAdjust="spacingAndGlyphs">Mon</text>
<text class="r" x="310.00" y="725.8" textLength="153.59" lengthAdjust="spacingAndGlyphs">Pink/Red</text>
<text class="r" x="508.00" y="725.8" textLength="99.51" lengthAdjust="spacingAndGlyphs">Heavy</text>
<text class="r" x="618.00" y="725.8" textLength="101.55" lengthAdjust="spacingAndGlyphs">Precip</text>
<text class="r" x="133.50" y="760.5" textLength="99.01" lengthAdjust="spacingAndGlyphs">Heavy</text>
<text class="r" x="244.00" y="760.5" textLength="100.54" lengthAdjust="spacingAndGlyphs">Precip</text>
<text class="r" x="389.00" y="760.5" textLength="70.56" lengthAdjust="spacingAndGlyphs">Cold</text>
<text class="r" x="469.00" y="760.5" textLength="47.50" lengthAdjust="spacingAndGlyphs">Air</text>
<text class="r" x="527.00" y="760.5" textLength="119.04" lengthAdjust="spacingAndGlyphs">Getting</text>
<text class="r" x="657.50" y="760.5" textLength="136.10" lengthAdjust="spacingAndGlyphs">Dragged</text>
<text class="r" x="803.50" y="760.5" textLength="93.13" lengthAdjust="spacingAndGlyphs">Down</text>
<path fill="#f00" d="M476.1 710.9h18.7v3.8h-18.7zM476.1 718.4h18.7v3.8h-18.7zM356.9 745.6h18.7v3.8h-18.7zM356.9 753.1h18.7v3.8h-18.7z"/>
</g>
</svg>
</body></html>
